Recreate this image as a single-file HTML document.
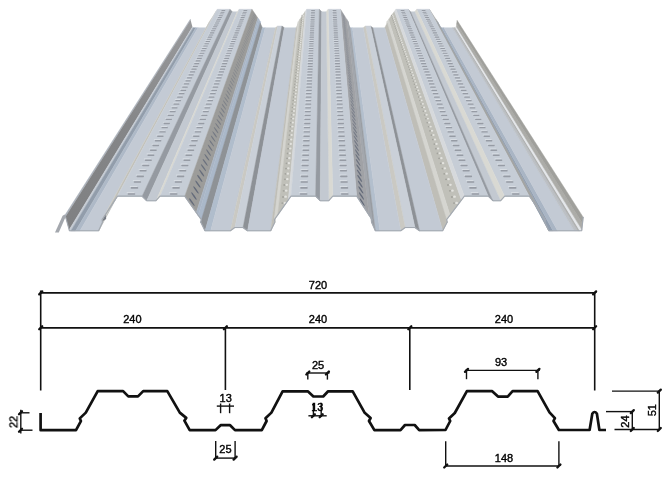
<!DOCTYPE html>
<html><head><meta charset="utf-8"><style>
html,body{margin:0;padding:0;background:#fff;width:669px;height:498px;overflow:hidden}
svg{display:block}
text{font-family:"Liberation Sans",sans-serif;fill:#000;stroke:#000;stroke-width:0.4px}
.tx{opacity:0.995}
</style></head><body>
<svg width="669" height="498" viewBox="0 0 669 498">
<defs><linearGradient id="lipg" x1="0" y1="231" x2="0" y2="19" gradientUnits="userSpaceOnUse"><stop offset="0" stop-color="#7f8082"/><stop offset="0.5" stop-color="#858688"/><stop offset="1" stop-color="#9a9b9d"/></linearGradient>
</defs>
<g id="deck">
<polygon points="65.00,215.08 65.44,216.68 190.58,20.08 190.35,19.24" fill="#a9b0ba" stroke="#a9b0ba" stroke-width="0.45"/>
<polygon points="65.44,216.68 69.09,229.89 192.46,27.11 190.58,20.08" fill="url(#lipg)"/>
<polygon points="69.09,229.89 69.40,231.00 192.62,27.70 192.46,27.11" fill="#c4cad2" stroke="#c4cad2" stroke-width="0.45"/>
<polygon points="69.40,231.00 70.86,231.00 193.37,27.70 192.62,27.70" fill="#bfc6cf" stroke="#bfc6cf" stroke-width="0.45"/>
<polygon points="70.86,231.00 75.53,231.00 195.77,27.70 193.37,27.70" fill="#929dab" stroke="#929dab" stroke-width="0.45"/>
<polygon points="75.53,231.00 79.91,231.00 198.03,27.70 195.77,27.70" fill="#aeb9c7" stroke="#aeb9c7" stroke-width="0.45"/>
<polygon points="79.91,231.00 98.60,231.00 207.65,27.70 198.03,27.70" fill="#c3cad4" stroke="#c3cad4" stroke-width="0.45"/>
<polygon points="98.60,231.00 102.57,222.35 209.69,23.10 207.65,27.70" fill="#bfbeb7" stroke="#bfbeb7" stroke-width="0.45"/>
<polygon points="102.57,222.35 102.00,219.93 209.40,21.81 209.69,23.10" fill="#d2d2cd" stroke="#d2d2cd" stroke-width="0.45"/>
<polygon points="102.00,219.93 105.03,215.43 210.95,19.42 209.40,21.81" fill="#d5d5d0" stroke="#d5d5d0" stroke-width="0.45"/>
<polygon points="105.03,215.43 115.01,200.21 216.09,11.32 210.95,19.42" fill="#c0c0b9" stroke="#c0c0b9" stroke-width="0.45"/>
<polygon points="115.01,200.21 117.50,196.40 217.37,9.30 216.09,11.32" fill="#d6d9dc" stroke="#d6d9dc" stroke-width="0.45"/>
<polygon points="117.50,196.40 142.00,196.40 229.98,9.30 217.37,9.30" fill="#c6cdd6" stroke="#c6cdd6" stroke-width="0.45"/>
<polygon points="142.00,196.40 146.60,201.00 232.35,11.75 229.98,9.30" fill="#959aa1" stroke="#959aa1" stroke-width="0.45"/>
<polygon points="146.60,201.00 156.00,201.00 237.19,11.75 232.35,11.75" fill="#c3c9d1" stroke="#c3c9d1" stroke-width="0.45"/>
<polygon points="156.00,201.00 160.00,196.40 239.25,9.30 237.19,11.75" fill="#d9d9d3" stroke="#d9d9d3" stroke-width="0.45"/>
<polygon points="160.00,196.40 184.70,196.40 251.96,9.30 239.25,9.30" fill="#c6cdd6" stroke="#c6cdd6" stroke-width="0.45"/>
<polygon points="184.70,196.40 196.22,212.77 257.89,18.00 251.96,9.30" fill="#9c9c9a" stroke="#9c9c9a" stroke-width="0.45"/>
<polygon points="196.22,212.77 198.10,215.43 258.86,19.42 257.89,18.00" fill="#a9b5c4" stroke="#a9b5c4" stroke-width="0.45"/>
<polygon points="198.10,215.43 201.35,219.93 260.53,21.81 258.86,19.42" fill="#aab8c9" stroke="#aab8c9" stroke-width="0.45"/>
<polygon points="201.35,219.93 200.74,222.35 260.22,23.10 260.53,21.81" fill="#a7b4c4" stroke="#a7b4c4" stroke-width="0.45"/>
<polygon points="200.74,222.35 205.00,231.00 262.41,27.70 260.22,23.10" fill="#8e9296" stroke="#8e9296" stroke-width="0.45"/>
<polygon points="205.00,231.00 210.59,231.00 265.29,27.70 262.41,27.70" fill="#b0bdcc" stroke="#b0bdcc" stroke-width="0.45"/>
<polygon points="210.59,231.00 230.40,231.00 275.48,27.70 265.29,27.70" fill="#c3cad4" stroke="#c3cad4" stroke-width="0.45"/>
<polygon points="230.40,231.00 234.80,227.82 277.75,26.01 275.48,27.70" fill="#cac9c3" stroke="#cac9c3" stroke-width="0.45"/>
<polygon points="234.80,227.82 243.00,227.82 281.97,26.01 277.75,26.01" fill="#cad0d8" stroke="#cad0d8" stroke-width="0.45"/>
<polygon points="243.00,227.82 247.50,231.00 284.29,27.70 281.97,26.01" fill="#8d9196" stroke="#8d9196" stroke-width="0.45"/>
<polygon points="247.50,231.00 270.70,231.00 296.23,27.70 284.29,27.70" fill="#c3cad4" stroke="#c3cad4" stroke-width="0.45"/>
<polygon points="270.70,231.00 274.96,222.35 298.42,23.10 296.23,27.70" fill="#bfbeb7" stroke="#bfbeb7" stroke-width="0.45"/>
<polygon points="274.96,222.35 274.35,219.93 298.11,21.81 298.42,23.10" fill="#d2d2cd" stroke="#d2d2cd" stroke-width="0.45"/>
<polygon points="274.35,219.93 277.60,215.43 299.78,19.42 298.11,21.81" fill="#d5d5d0" stroke="#d5d5d0" stroke-width="0.45"/>
<polygon points="277.60,215.43 288.32,200.21 305.30,11.32 299.78,19.42" fill="#c0c0b9" stroke="#c0c0b9" stroke-width="0.45"/>
<polygon points="288.32,200.21 291.00,196.40 306.68,9.30 305.30,11.32" fill="#d6d9dc" stroke="#d6d9dc" stroke-width="0.45"/>
<polygon points="291.00,196.40 315.60,196.40 319.34,9.30 306.68,9.30" fill="#c6cdd6" stroke="#c6cdd6" stroke-width="0.45"/>
<polygon points="315.60,196.40 320.20,201.00 321.70,11.75 319.34,9.30" fill="#959aa1" stroke="#959aa1" stroke-width="0.45"/>
<polygon points="581.70,231.00 581.88,229.34 456.39,26.82 456.30,27.70" fill="#d6d8da" stroke="#d6d8da" stroke-width="0.45"/>
<polygon points="581.88,229.34 582.53,223.39 456.72,23.65 456.39,26.82" fill="#acacA8" stroke="#acacA8" stroke-width="0.45"/>
<polygon points="582.53,223.39 583.20,217.16 457.07,20.34 456.72,23.65" fill="#a0a09c" stroke="#a0a09c" stroke-width="0.45"/>
<polygon points="548.90,231.00 553.16,231.00 441.61,27.70 439.42,27.70" fill="#909dae" stroke="#909dae" stroke-width="0.45"/>
<polygon points="553.16,231.00 557.76,231.00 443.97,27.70 441.61,27.70" fill="#a9b5c4" stroke="#a9b5c4" stroke-width="0.45"/>
<polygon points="557.76,231.00 574.48,231.00 452.58,27.70 443.97,27.70" fill="#c3cad4" stroke="#c3cad4" stroke-width="0.45"/>
<polygon points="574.48,231.00 577.76,231.00 454.27,27.70 452.58,27.70" fill="#bcc0c5" stroke="#bcc0c5" stroke-width="0.45"/>
<polygon points="577.76,231.00 580.06,231.00 455.45,27.70 454.27,27.70" fill="#b0b2b2" stroke="#b0b2b2" stroke-width="0.45"/>
<polygon points="580.06,231.00 581.70,231.00 456.30,27.70 455.45,27.70" fill="#e4e7ea" stroke="#e4e7ea" stroke-width="0.45"/>
<polygon points="544.80,222.35 548.90,231.00 439.42,27.70 437.31,23.10" fill="#909aa6" stroke="#909aa6" stroke-width="0.45"/>
<polygon points="545.39,219.93 544.80,222.35 437.31,23.10 437.61,21.81" fill="#9ea9b7" stroke="#9ea9b7" stroke-width="0.45"/>
<polygon points="542.27,215.43 545.39,219.93 437.61,21.81 436.00,19.42" fill="#9ea9b7" stroke="#9ea9b7" stroke-width="0.45"/>
<polygon points="529.40,196.40 542.27,215.43 436.00,19.42 429.38,9.30" fill="#a4a5a3" stroke="#a4a5a3" stroke-width="0.45"/>
<polygon points="504.70,196.40 529.40,196.40 429.38,9.30 416.67,9.30" fill="#c6cdd6" stroke="#c6cdd6" stroke-width="0.45"/>
<polygon points="500.70,201.00 504.70,196.40 416.67,9.30 414.61,11.75" fill="#d9d9d3" stroke="#d9d9d3" stroke-width="0.45"/>
<polygon points="492.90,201.00 500.70,201.00 414.61,11.75 410.59,11.75" fill="#c3c9d1" stroke="#c3c9d1" stroke-width="0.45"/>
<polygon points="488.30,196.40 492.90,201.00 410.59,11.75 408.23,9.30" fill="#959aa1" stroke="#959aa1" stroke-width="0.45"/>
<polygon points="464.40,196.40 488.30,196.40 408.23,9.30 395.92,9.30" fill="#c6cdd6" stroke="#c6cdd6" stroke-width="0.45"/>
<polygon points="450.08,215.43 461.54,200.21 394.45,11.32 388.55,19.42" fill="#c0c0b9" stroke="#c0c0b9" stroke-width="0.45"/>
<polygon points="461.54,200.21 464.40,196.40 395.92,9.30 394.45,11.32" fill="#d6d9dc" stroke="#d6d9dc" stroke-width="0.45"/>
<polygon points="446.61,219.93 450.08,215.43 388.55,19.42 386.77,21.81" fill="#d5d5d0" stroke="#d5d5d0" stroke-width="0.45"/>
<polygon points="447.26,222.35 446.61,219.93 386.77,21.81 387.10,23.10" fill="#d2d2cd" stroke="#d2d2cd" stroke-width="0.45"/>
<polygon points="442.70,231.00 447.26,222.35 387.10,23.10 384.76,27.70" fill="#bfbeb7" stroke="#bfbeb7" stroke-width="0.45"/>
<polygon points="419.50,231.00 442.70,231.00 384.76,27.70 372.81,27.70" fill="#c3cad4" stroke="#c3cad4" stroke-width="0.45"/>
<polygon points="415.00,227.82 419.50,231.00 372.81,27.70 370.50,26.01" fill="#8d9196" stroke="#8d9196" stroke-width="0.45"/>
<polygon points="405.20,227.82 415.00,227.82 370.50,26.01 365.45,26.01" fill="#cad0d8" stroke="#cad0d8" stroke-width="0.45"/>
<polygon points="400.80,231.00 405.20,227.82 365.45,26.01 363.19,27.70" fill="#cac9c3" stroke="#cac9c3" stroke-width="0.45"/>
<polygon points="375.40,231.00 379.97,231.00 352.47,27.70 350.12,27.70" fill="#b3bfcd" stroke="#b3bfcd" stroke-width="0.45"/>
<polygon points="379.97,231.00 400.80,231.00 363.19,27.70 352.47,27.70" fill="#c3cad4" stroke="#c3cad4" stroke-width="0.45"/>
<polygon points="371.47,222.35 375.40,231.00 350.12,27.70 348.09,23.10" fill="#989ca2" stroke="#989ca2" stroke-width="0.45"/>
<polygon points="372.03,219.93 371.47,222.35 348.09,23.10 348.38,21.81" fill="#a5abb3" stroke="#a5abb3" stroke-width="0.45"/>
<polygon points="369.04,215.43 372.03,219.93 348.38,21.81 346.84,19.42" fill="#a3a7ad" stroke="#a3a7ad" stroke-width="0.45"/>
<polygon points="356.70,196.40 369.04,215.43 346.84,19.42 340.49,9.30" fill="#a0a2a6" stroke="#a0a2a6" stroke-width="0.45"/>
<polygon points="332.80,196.40 356.70,196.40 340.49,9.30 328.19,9.30" fill="#c6cdd6" stroke="#c6cdd6" stroke-width="0.45"/>
<polygon points="328.80,201.00 332.80,196.40 328.19,9.30 326.13,11.75" fill="#d9d9d3" stroke="#d9d9d3" stroke-width="0.45"/>
<polygon points="320.20,201.00 328.80,201.00 326.13,11.75 321.70,11.75" fill="#c3c9d1" stroke="#c3c9d1" stroke-width="0.45"/>
<polygon points="55.00,232.60 62.60,215.80 64.60,214.60 66.00,216.00 58.80,232.60" fill="#a4a8ae"/>
<polygon points="101.60,221.80 105.60,214.20 106.20,219.00" fill="#767b83"/>
<rect x="126.65" y="191.99" width="7.74" height="1.29" fill="#d8dde3" rx="0.60"/>
<rect x="127.55" y="193.18" width="7.74" height="1.69" fill="#969ba4" rx="0.79"/>
<rect x="129.77" y="185.94" width="7.62" height="1.27" fill="#d8dde3" rx="0.59"/>
<rect x="130.65" y="187.11" width="7.62" height="1.66" fill="#969ba4" rx="0.78"/>
<rect x="132.80" y="180.07" width="7.50" height="1.25" fill="#d8dde3" rx="0.58"/>
<rect x="133.66" y="181.23" width="7.50" height="1.64" fill="#969ba4" rx="0.77"/>
<rect x="135.73" y="174.39" width="7.38" height="1.24" fill="#d8dde3" rx="0.57"/>
<rect x="136.58" y="175.53" width="7.38" height="1.61" fill="#969ba4" rx="0.76"/>
<rect x="138.57" y="168.88" width="7.27" height="1.22" fill="#d8dde3" rx="0.56"/>
<rect x="139.41" y="170.00" width="7.27" height="1.59" fill="#969ba4" rx="0.75"/>
<rect x="141.33" y="163.54" width="7.16" height="1.20" fill="#d8dde3" rx="0.55"/>
<rect x="142.16" y="164.64" width="7.16" height="1.57" fill="#969ba4" rx="0.73"/>
<rect x="144.01" y="158.35" width="7.06" height="1.19" fill="#d8dde3" rx="0.54"/>
<rect x="144.82" y="159.44" width="7.06" height="1.55" fill="#969ba4" rx="0.72"/>
<rect x="146.61" y="153.31" width="6.96" height="1.17" fill="#d8dde3" rx="0.54"/>
<rect x="147.41" y="154.38" width="6.96" height="1.53" fill="#969ba4" rx="0.71"/>
<rect x="149.13" y="148.42" width="6.86" height="1.15" fill="#d8dde3" rx="0.53"/>
<rect x="149.92" y="149.48" width="6.86" height="1.51" fill="#969ba4" rx="0.70"/>
<rect x="151.59" y="143.67" width="6.76" height="1.14" fill="#d8dde3" rx="0.52"/>
<rect x="152.37" y="144.71" width="6.76" height="1.49" fill="#969ba4" rx="0.69"/>
<rect x="153.97" y="139.04" width="6.67" height="1.13" fill="#d8dde3" rx="0.51"/>
<rect x="154.74" y="140.07" width="6.67" height="1.47" fill="#969ba4" rx="0.68"/>
<rect x="156.29" y="134.55" width="6.57" height="1.11" fill="#d8dde3" rx="0.51"/>
<rect x="157.05" y="135.56" width="6.57" height="1.45" fill="#969ba4" rx="0.67"/>
<rect x="158.55" y="130.17" width="6.49" height="1.10" fill="#d8dde3" rx="0.50"/>
<rect x="159.30" y="131.17" width="6.49" height="1.43" fill="#969ba4" rx="0.67"/>
<rect x="160.75" y="125.91" width="6.40" height="1.08" fill="#d8dde3" rx="0.49"/>
<rect x="161.48" y="126.90" width="6.40" height="1.41" fill="#969ba4" rx="0.66"/>
<rect x="162.88" y="121.77" width="6.31" height="1.07" fill="#d8dde3" rx="0.49"/>
<rect x="163.61" y="122.74" width="6.31" height="1.40" fill="#969ba4" rx="0.65"/>
<rect x="164.97" y="117.73" width="6.23" height="1.06" fill="#d8dde3" rx="0.48"/>
<rect x="165.69" y="118.69" width="6.23" height="1.38" fill="#969ba4" rx="0.64"/>
<rect x="167.00" y="113.79" width="6.15" height="1.05" fill="#d8dde3" rx="0.47"/>
<rect x="167.71" y="114.74" width="6.15" height="1.36" fill="#969ba4" rx="0.63"/>
<rect x="168.98" y="109.96" width="6.07" height="1.03" fill="#d8dde3" rx="0.47"/>
<rect x="169.68" y="110.89" width="6.07" height="1.35" fill="#969ba4" rx="0.62"/>
<rect x="170.91" y="106.22" width="6.00" height="1.02" fill="#d8dde3" rx="0.46"/>
<rect x="171.60" y="107.14" width="6.00" height="1.33" fill="#969ba4" rx="0.62"/>
<rect x="172.79" y="102.57" width="5.92" height="1.01" fill="#d8dde3" rx="0.46"/>
<rect x="173.47" y="103.48" width="5.92" height="1.32" fill="#969ba4" rx="0.61"/>
<rect x="174.62" y="99.01" width="5.85" height="1.00" fill="#d8dde3" rx="0.45"/>
<rect x="175.30" y="99.91" width="5.85" height="1.30" fill="#969ba4" rx="0.60"/>
<rect x="176.42" y="95.54" width="5.78" height="0.99" fill="#d8dde3" rx="0.44"/>
<rect x="177.08" y="96.43" width="5.78" height="1.29" fill="#969ba4" rx="0.59"/>
<rect x="178.17" y="92.15" width="5.71" height="0.98" fill="#d8dde3" rx="0.44"/>
<rect x="178.82" y="93.03" width="5.71" height="1.27" fill="#969ba4" rx="0.59"/>
<rect x="179.87" y="88.84" width="5.65" height="0.97" fill="#d8dde3" rx="0.43"/>
<rect x="180.52" y="89.71" width="5.65" height="1.26" fill="#969ba4" rx="0.58"/>
<rect x="181.54" y="85.61" width="5.58" height="0.96" fill="#d8dde3" rx="0.43"/>
<rect x="182.19" y="86.47" width="5.58" height="1.24" fill="#969ba4" rx="0.57"/>
<rect x="183.17" y="82.45" width="5.52" height="0.95" fill="#d8dde3" rx="0.42"/>
<rect x="183.81" y="83.30" width="5.52" height="1.23" fill="#969ba4" rx="0.57"/>
<rect x="184.76" y="79.36" width="5.45" height="0.94" fill="#d8dde3" rx="0.42"/>
<rect x="185.39" y="80.20" width="5.45" height="1.22" fill="#969ba4" rx="0.56"/>
<rect x="186.32" y="76.35" width="5.39" height="0.93" fill="#d8dde3" rx="0.41"/>
<rect x="186.94" y="77.17" width="5.39" height="1.21" fill="#969ba4" rx="0.55"/>
<rect x="187.84" y="73.40" width="5.33" height="0.92" fill="#d8dde3" rx="0.41"/>
<rect x="188.46" y="74.22" width="5.33" height="1.19" fill="#969ba4" rx="0.55"/>
<rect x="189.33" y="70.51" width="5.27" height="0.91" fill="#d8dde3" rx="0.41"/>
<rect x="189.94" y="71.32" width="5.27" height="1.18" fill="#969ba4" rx="0.54"/>
<rect x="190.79" y="67.69" width="5.22" height="0.90" fill="#d8dde3" rx="0.40"/>
<rect x="191.39" y="68.49" width="5.22" height="1.17" fill="#969ba4" rx="0.53"/>
<rect x="192.21" y="64.92" width="5.16" height="0.89" fill="#d8dde3" rx="0.40"/>
<rect x="192.81" y="65.72" width="5.16" height="1.16" fill="#969ba4" rx="0.53"/>
<rect x="193.61" y="62.22" width="5.11" height="0.89" fill="#d8dde3" rx="0.39"/>
<rect x="194.20" y="63.01" width="5.11" height="1.15" fill="#969ba4" rx="0.52"/>
<rect x="194.97" y="59.58" width="5.05" height="0.88" fill="#d8dde3" rx="0.39"/>
<rect x="195.56" y="60.35" width="5.05" height="1.14" fill="#969ba4" rx="0.52"/>
<rect x="196.31" y="56.98" width="5.00" height="0.87" fill="#d8dde3" rx="0.38"/>
<rect x="196.89" y="57.75" width="5.00" height="1.13" fill="#969ba4" rx="0.51"/>
<rect x="197.62" y="54.45" width="4.95" height="0.86" fill="#d8dde3" rx="0.38"/>
<rect x="198.19" y="55.21" width="4.95" height="1.11" fill="#969ba4" rx="0.51"/>
<rect x="198.90" y="51.96" width="4.90" height="0.85" fill="#d8dde3" rx="0.38"/>
<rect x="199.47" y="52.71" width="4.90" height="1.10" fill="#969ba4" rx="0.50"/>
<rect x="200.16" y="49.52" width="4.85" height="0.85" fill="#d8dde3" rx="0.37"/>
<rect x="200.72" y="50.27" width="4.85" height="1.09" fill="#969ba4" rx="0.50"/>
<rect x="201.39" y="47.14" width="4.80" height="0.84" fill="#d8dde3" rx="0.37"/>
<rect x="201.94" y="47.88" width="4.80" height="1.08" fill="#969ba4" rx="0.49"/>
<rect x="202.60" y="44.80" width="4.75" height="0.83" fill="#d8dde3" rx="0.37"/>
<rect x="203.15" y="45.53" width="4.75" height="1.07" fill="#969ba4" rx="0.49"/>
<rect x="203.78" y="42.50" width="4.70" height="0.82" fill="#d8dde3" rx="0.36"/>
<rect x="204.32" y="43.23" width="4.70" height="1.07" fill="#969ba4" rx="0.48"/>
<rect x="204.94" y="40.25" width="4.66" height="0.82" fill="#d8dde3" rx="0.36"/>
<rect x="205.48" y="40.97" width="4.66" height="1.06" fill="#969ba4" rx="0.48"/>
<rect x="206.08" y="38.05" width="4.61" height="0.81" fill="#d8dde3" rx="0.35"/>
<rect x="206.61" y="38.76" width="4.61" height="1.05" fill="#969ba4" rx="0.47"/>
<rect x="207.20" y="35.88" width="4.57" height="0.80" fill="#d8dde3" rx="0.35"/>
<rect x="207.72" y="36.59" width="4.57" height="1.04" fill="#969ba4" rx="0.47"/>
<rect x="208.29" y="33.76" width="4.53" height="0.80" fill="#d8dde3" rx="0.35"/>
<rect x="208.81" y="34.46" width="4.53" height="1.03" fill="#969ba4" rx="0.46"/>
<rect x="209.37" y="31.68" width="4.48" height="0.79" fill="#d8dde3" rx="0.34"/>
<rect x="209.88" y="32.37" width="4.48" height="1.02" fill="#969ba4" rx="0.46"/>
<rect x="210.42" y="29.63" width="4.44" height="0.78" fill="#d8dde3" rx="0.34"/>
<rect x="210.94" y="30.32" width="4.44" height="1.01" fill="#969ba4" rx="0.46"/>
<rect x="211.46" y="27.63" width="4.40" height="0.78" fill="#d8dde3" rx="0.34"/>
<rect x="211.97" y="28.30" width="4.40" height="1.00" fill="#969ba4" rx="0.45"/>
<rect x="212.48" y="25.66" width="4.36" height="0.77" fill="#d8dde3" rx="0.34"/>
<rect x="212.98" y="26.33" width="4.36" height="0.99" fill="#969ba4" rx="0.45"/>
<rect x="213.47" y="23.72" width="4.32" height="0.77" fill="#d8dde3" rx="0.33"/>
<rect x="213.97" y="24.39" width="4.32" height="0.99" fill="#969ba4" rx="0.44"/>
<rect x="214.45" y="21.82" width="4.28" height="0.76" fill="#d8dde3" rx="0.33"/>
<rect x="214.95" y="22.48" width="4.28" height="0.98" fill="#969ba4" rx="0.44"/>
<rect x="215.42" y="19.95" width="4.25" height="0.75" fill="#d8dde3" rx="0.33"/>
<rect x="215.91" y="20.61" width="4.25" height="0.97" fill="#969ba4" rx="0.44"/>
<rect x="216.36" y="18.12" width="4.21" height="0.75" fill="#d8dde3" rx="0.32"/>
<rect x="216.85" y="18.77" width="4.21" height="0.96" fill="#969ba4" rx="0.43"/>
<rect x="217.29" y="16.32" width="4.17" height="0.74" fill="#d8dde3" rx="0.32"/>
<rect x="217.78" y="16.96" width="4.17" height="0.96" fill="#969ba4" rx="0.43"/>
<rect x="218.21" y="14.54" width="4.14" height="0.74" fill="#d8dde3" rx="0.32"/>
<rect x="218.69" y="15.18" width="4.14" height="0.95" fill="#969ba4" rx="0.42"/>
<rect x="219.11" y="12.80" width="4.10" height="0.73" fill="#d8dde3" rx="0.32"/>
<rect x="219.58" y="13.43" width="4.10" height="0.94" fill="#969ba4" rx="0.42"/>
<rect x="219.99" y="11.09" width="4.07" height="0.73" fill="#d8dde3" rx="0.31"/>
<rect x="220.46" y="11.72" width="4.07" height="0.93" fill="#969ba4" rx="0.42"/>
<rect x="220.86" y="9.41" width="4.03" height="0.72" fill="#d8dde3" rx="0.31"/>
<rect x="221.32" y="10.03" width="4.03" height="0.93" fill="#969ba4" rx="0.41"/>
<rect x="168.93" y="191.99" width="7.74" height="1.29" fill="#d8dde3" rx="0.60"/>
<rect x="169.82" y="193.18" width="7.74" height="1.69" fill="#969ba4" rx="0.79"/>
<rect x="171.38" y="185.94" width="7.62" height="1.27" fill="#d8dde3" rx="0.59"/>
<rect x="172.26" y="187.11" width="7.62" height="1.66" fill="#969ba4" rx="0.78"/>
<rect x="173.75" y="180.07" width="7.50" height="1.25" fill="#d8dde3" rx="0.58"/>
<rect x="174.62" y="181.23" width="7.50" height="1.64" fill="#969ba4" rx="0.77"/>
<rect x="176.06" y="174.39" width="7.38" height="1.24" fill="#d8dde3" rx="0.57"/>
<rect x="176.91" y="175.53" width="7.38" height="1.61" fill="#969ba4" rx="0.76"/>
<rect x="178.29" y="168.88" width="7.27" height="1.22" fill="#d8dde3" rx="0.56"/>
<rect x="179.13" y="170.00" width="7.27" height="1.59" fill="#969ba4" rx="0.75"/>
<rect x="180.45" y="163.54" width="7.16" height="1.20" fill="#d8dde3" rx="0.55"/>
<rect x="181.28" y="164.64" width="7.16" height="1.57" fill="#969ba4" rx="0.73"/>
<rect x="182.55" y="158.35" width="7.06" height="1.19" fill="#d8dde3" rx="0.54"/>
<rect x="183.37" y="159.44" width="7.06" height="1.55" fill="#969ba4" rx="0.72"/>
<rect x="184.59" y="153.31" width="6.96" height="1.17" fill="#d8dde3" rx="0.54"/>
<rect x="185.40" y="154.38" width="6.96" height="1.53" fill="#969ba4" rx="0.71"/>
<rect x="186.58" y="148.42" width="6.86" height="1.15" fill="#d8dde3" rx="0.53"/>
<rect x="187.37" y="149.48" width="6.86" height="1.51" fill="#969ba4" rx="0.70"/>
<rect x="188.50" y="143.67" width="6.76" height="1.14" fill="#d8dde3" rx="0.52"/>
<rect x="189.28" y="144.71" width="6.76" height="1.49" fill="#969ba4" rx="0.69"/>
<rect x="190.37" y="139.04" width="6.67" height="1.13" fill="#d8dde3" rx="0.51"/>
<rect x="191.14" y="140.07" width="6.67" height="1.47" fill="#969ba4" rx="0.68"/>
<rect x="192.20" y="134.55" width="6.57" height="1.11" fill="#d8dde3" rx="0.51"/>
<rect x="192.95" y="135.56" width="6.57" height="1.45" fill="#969ba4" rx="0.67"/>
<rect x="193.97" y="130.17" width="6.49" height="1.10" fill="#d8dde3" rx="0.50"/>
<rect x="194.72" y="131.17" width="6.49" height="1.43" fill="#969ba4" rx="0.67"/>
<rect x="195.69" y="125.91" width="6.40" height="1.08" fill="#d8dde3" rx="0.49"/>
<rect x="196.43" y="126.90" width="6.40" height="1.41" fill="#969ba4" rx="0.66"/>
<rect x="197.37" y="121.77" width="6.31" height="1.07" fill="#d8dde3" rx="0.49"/>
<rect x="198.10" y="122.74" width="6.31" height="1.40" fill="#969ba4" rx="0.65"/>
<rect x="199.01" y="117.73" width="6.23" height="1.06" fill="#d8dde3" rx="0.48"/>
<rect x="199.73" y="118.69" width="6.23" height="1.38" fill="#969ba4" rx="0.64"/>
<rect x="200.60" y="113.79" width="6.15" height="1.05" fill="#d8dde3" rx="0.47"/>
<rect x="201.31" y="114.74" width="6.15" height="1.36" fill="#969ba4" rx="0.63"/>
<rect x="202.16" y="109.96" width="6.07" height="1.03" fill="#d8dde3" rx="0.47"/>
<rect x="202.86" y="110.89" width="6.07" height="1.35" fill="#969ba4" rx="0.62"/>
<rect x="203.67" y="106.22" width="6.00" height="1.02" fill="#d8dde3" rx="0.46"/>
<rect x="204.36" y="107.14" width="6.00" height="1.33" fill="#969ba4" rx="0.62"/>
<rect x="205.15" y="102.57" width="5.92" height="1.01" fill="#d8dde3" rx="0.46"/>
<rect x="205.83" y="103.48" width="5.92" height="1.32" fill="#969ba4" rx="0.61"/>
<rect x="206.59" y="99.01" width="5.85" height="1.00" fill="#d8dde3" rx="0.45"/>
<rect x="207.26" y="99.91" width="5.85" height="1.30" fill="#969ba4" rx="0.60"/>
<rect x="207.99" y="95.54" width="5.78" height="0.99" fill="#d8dde3" rx="0.44"/>
<rect x="208.66" y="96.43" width="5.78" height="1.29" fill="#969ba4" rx="0.59"/>
<rect x="209.37" y="92.15" width="5.71" height="0.98" fill="#d8dde3" rx="0.44"/>
<rect x="210.03" y="93.03" width="5.71" height="1.27" fill="#969ba4" rx="0.59"/>
<rect x="210.71" y="88.84" width="5.65" height="0.97" fill="#d8dde3" rx="0.43"/>
<rect x="211.36" y="89.71" width="5.65" height="1.26" fill="#969ba4" rx="0.58"/>
<rect x="212.02" y="85.61" width="5.58" height="0.96" fill="#d8dde3" rx="0.43"/>
<rect x="212.66" y="86.47" width="5.58" height="1.24" fill="#969ba4" rx="0.57"/>
<rect x="213.30" y="82.45" width="5.52" height="0.95" fill="#d8dde3" rx="0.42"/>
<rect x="213.93" y="83.30" width="5.52" height="1.23" fill="#969ba4" rx="0.57"/>
<rect x="214.55" y="79.36" width="5.45" height="0.94" fill="#d8dde3" rx="0.42"/>
<rect x="215.18" y="80.20" width="5.45" height="1.22" fill="#969ba4" rx="0.56"/>
<rect x="215.77" y="76.35" width="5.39" height="0.93" fill="#d8dde3" rx="0.41"/>
<rect x="216.39" y="77.17" width="5.39" height="1.21" fill="#969ba4" rx="0.55"/>
<rect x="216.96" y="73.40" width="5.33" height="0.92" fill="#d8dde3" rx="0.41"/>
<rect x="217.58" y="74.22" width="5.33" height="1.19" fill="#969ba4" rx="0.55"/>
<rect x="218.13" y="70.51" width="5.27" height="0.91" fill="#d8dde3" rx="0.41"/>
<rect x="218.74" y="71.32" width="5.27" height="1.18" fill="#969ba4" rx="0.54"/>
<rect x="219.28" y="67.69" width="5.22" height="0.90" fill="#d8dde3" rx="0.40"/>
<rect x="219.88" y="68.49" width="5.22" height="1.17" fill="#969ba4" rx="0.53"/>
<rect x="220.40" y="64.92" width="5.16" height="0.89" fill="#d8dde3" rx="0.40"/>
<rect x="220.99" y="65.72" width="5.16" height="1.16" fill="#969ba4" rx="0.53"/>
<rect x="221.49" y="62.22" width="5.11" height="0.89" fill="#d8dde3" rx="0.39"/>
<rect x="222.08" y="63.01" width="5.11" height="1.15" fill="#969ba4" rx="0.52"/>
<rect x="222.56" y="59.58" width="5.05" height="0.88" fill="#d8dde3" rx="0.39"/>
<rect x="223.14" y="60.35" width="5.05" height="1.14" fill="#969ba4" rx="0.52"/>
<rect x="223.61" y="56.98" width="5.00" height="0.87" fill="#d8dde3" rx="0.38"/>
<rect x="224.19" y="57.75" width="5.00" height="1.13" fill="#969ba4" rx="0.51"/>
<rect x="224.64" y="54.45" width="4.95" height="0.86" fill="#d8dde3" rx="0.38"/>
<rect x="225.21" y="55.21" width="4.95" height="1.11" fill="#969ba4" rx="0.51"/>
<rect x="225.65" y="51.96" width="4.90" height="0.85" fill="#d8dde3" rx="0.38"/>
<rect x="226.21" y="52.71" width="4.90" height="1.10" fill="#969ba4" rx="0.50"/>
<rect x="226.63" y="49.52" width="4.85" height="0.85" fill="#d8dde3" rx="0.37"/>
<rect x="227.19" y="50.27" width="4.85" height="1.09" fill="#969ba4" rx="0.50"/>
<rect x="227.60" y="47.14" width="4.80" height="0.84" fill="#d8dde3" rx="0.37"/>
<rect x="228.15" y="47.88" width="4.80" height="1.08" fill="#969ba4" rx="0.49"/>
<rect x="228.55" y="44.80" width="4.75" height="0.83" fill="#d8dde3" rx="0.37"/>
<rect x="229.10" y="45.53" width="4.75" height="1.07" fill="#969ba4" rx="0.49"/>
<rect x="229.48" y="42.50" width="4.70" height="0.82" fill="#d8dde3" rx="0.36"/>
<rect x="230.02" y="43.23" width="4.70" height="1.07" fill="#969ba4" rx="0.48"/>
<rect x="230.39" y="40.25" width="4.66" height="0.82" fill="#d8dde3" rx="0.36"/>
<rect x="230.93" y="40.97" width="4.66" height="1.06" fill="#969ba4" rx="0.48"/>
<rect x="231.28" y="38.05" width="4.61" height="0.81" fill="#d8dde3" rx="0.35"/>
<rect x="231.81" y="38.76" width="4.61" height="1.05" fill="#969ba4" rx="0.47"/>
<rect x="232.16" y="35.88" width="4.57" height="0.80" fill="#d8dde3" rx="0.35"/>
<rect x="232.69" y="36.59" width="4.57" height="1.04" fill="#969ba4" rx="0.47"/>
<rect x="233.02" y="33.76" width="4.53" height="0.80" fill="#d8dde3" rx="0.35"/>
<rect x="233.54" y="34.46" width="4.53" height="1.03" fill="#969ba4" rx="0.46"/>
<rect x="233.86" y="31.68" width="4.48" height="0.79" fill="#d8dde3" rx="0.34"/>
<rect x="234.38" y="32.37" width="4.48" height="1.02" fill="#969ba4" rx="0.46"/>
<rect x="234.69" y="29.63" width="4.44" height="0.78" fill="#d8dde3" rx="0.34"/>
<rect x="235.20" y="30.32" width="4.44" height="1.01" fill="#969ba4" rx="0.46"/>
<rect x="235.50" y="27.63" width="4.40" height="0.78" fill="#d8dde3" rx="0.34"/>
<rect x="236.01" y="28.30" width="4.40" height="1.00" fill="#969ba4" rx="0.45"/>
<rect x="236.30" y="25.66" width="4.36" height="0.77" fill="#d8dde3" rx="0.34"/>
<rect x="236.80" y="26.33" width="4.36" height="0.99" fill="#969ba4" rx="0.45"/>
<rect x="237.09" y="23.72" width="4.32" height="0.77" fill="#d8dde3" rx="0.33"/>
<rect x="237.58" y="24.39" width="4.32" height="0.99" fill="#969ba4" rx="0.44"/>
<rect x="237.85" y="21.82" width="4.28" height="0.76" fill="#d8dde3" rx="0.33"/>
<rect x="238.35" y="22.48" width="4.28" height="0.98" fill="#969ba4" rx="0.44"/>
<rect x="238.61" y="19.95" width="4.25" height="0.75" fill="#d8dde3" rx="0.33"/>
<rect x="239.10" y="20.61" width="4.25" height="0.97" fill="#969ba4" rx="0.44"/>
<rect x="239.35" y="18.12" width="4.21" height="0.75" fill="#d8dde3" rx="0.32"/>
<rect x="239.84" y="18.77" width="4.21" height="0.96" fill="#969ba4" rx="0.43"/>
<rect x="240.08" y="16.32" width="4.17" height="0.74" fill="#d8dde3" rx="0.32"/>
<rect x="240.57" y="16.96" width="4.17" height="0.96" fill="#969ba4" rx="0.43"/>
<rect x="240.80" y="14.54" width="4.14" height="0.74" fill="#d8dde3" rx="0.32"/>
<rect x="241.28" y="15.18" width="4.14" height="0.95" fill="#969ba4" rx="0.42"/>
<rect x="241.51" y="12.80" width="4.10" height="0.73" fill="#d8dde3" rx="0.32"/>
<rect x="241.98" y="13.43" width="4.10" height="0.94" fill="#969ba4" rx="0.42"/>
<rect x="242.20" y="11.09" width="4.07" height="0.73" fill="#d8dde3" rx="0.31"/>
<rect x="242.67" y="11.72" width="4.07" height="0.93" fill="#969ba4" rx="0.42"/>
<rect x="242.88" y="9.41" width="4.03" height="0.72" fill="#d8dde3" rx="0.31"/>
<rect x="243.35" y="10.03" width="4.03" height="0.93" fill="#969ba4" rx="0.41"/>
<rect x="298.89" y="191.99" width="7.74" height="1.29" fill="#d8dde3" rx="0.60"/>
<rect x="299.78" y="193.18" width="7.74" height="1.69" fill="#969ba4" rx="0.79"/>
<rect x="299.27" y="185.94" width="7.62" height="1.27" fill="#d8dde3" rx="0.59"/>
<rect x="300.15" y="187.11" width="7.62" height="1.66" fill="#969ba4" rx="0.78"/>
<rect x="299.65" y="180.07" width="7.50" height="1.25" fill="#d8dde3" rx="0.58"/>
<rect x="300.51" y="181.23" width="7.50" height="1.64" fill="#969ba4" rx="0.77"/>
<rect x="300.01" y="174.39" width="7.38" height="1.24" fill="#d8dde3" rx="0.57"/>
<rect x="300.87" y="175.53" width="7.38" height="1.61" fill="#969ba4" rx="0.76"/>
<rect x="300.37" y="168.88" width="7.27" height="1.22" fill="#d8dde3" rx="0.56"/>
<rect x="301.21" y="170.00" width="7.27" height="1.59" fill="#969ba4" rx="0.75"/>
<rect x="300.71" y="163.54" width="7.16" height="1.20" fill="#d8dde3" rx="0.55"/>
<rect x="301.54" y="164.64" width="7.16" height="1.57" fill="#969ba4" rx="0.73"/>
<rect x="301.04" y="158.35" width="7.06" height="1.19" fill="#d8dde3" rx="0.54"/>
<rect x="301.86" y="159.44" width="7.06" height="1.55" fill="#969ba4" rx="0.72"/>
<rect x="301.36" y="153.31" width="6.96" height="1.17" fill="#d8dde3" rx="0.54"/>
<rect x="302.17" y="154.38" width="6.96" height="1.53" fill="#969ba4" rx="0.71"/>
<rect x="301.68" y="148.42" width="6.86" height="1.15" fill="#d8dde3" rx="0.53"/>
<rect x="302.47" y="149.48" width="6.86" height="1.51" fill="#969ba4" rx="0.70"/>
<rect x="301.98" y="143.67" width="6.76" height="1.14" fill="#d8dde3" rx="0.52"/>
<rect x="302.76" y="144.71" width="6.76" height="1.49" fill="#969ba4" rx="0.69"/>
<rect x="302.28" y="139.04" width="6.67" height="1.13" fill="#d8dde3" rx="0.51"/>
<rect x="303.05" y="140.07" width="6.67" height="1.47" fill="#969ba4" rx="0.68"/>
<rect x="302.57" y="134.55" width="6.57" height="1.11" fill="#d8dde3" rx="0.51"/>
<rect x="303.32" y="135.56" width="6.57" height="1.45" fill="#969ba4" rx="0.67"/>
<rect x="302.85" y="130.17" width="6.49" height="1.10" fill="#d8dde3" rx="0.50"/>
<rect x="303.59" y="131.17" width="6.49" height="1.43" fill="#969ba4" rx="0.67"/>
<rect x="303.12" y="125.91" width="6.40" height="1.08" fill="#d8dde3" rx="0.49"/>
<rect x="303.86" y="126.90" width="6.40" height="1.41" fill="#969ba4" rx="0.66"/>
<rect x="303.38" y="121.77" width="6.31" height="1.07" fill="#d8dde3" rx="0.49"/>
<rect x="304.11" y="122.74" width="6.31" height="1.40" fill="#969ba4" rx="0.65"/>
<rect x="303.64" y="117.73" width="6.23" height="1.06" fill="#d8dde3" rx="0.48"/>
<rect x="304.36" y="118.69" width="6.23" height="1.38" fill="#969ba4" rx="0.64"/>
<rect x="303.90" y="113.79" width="6.15" height="1.05" fill="#d8dde3" rx="0.47"/>
<rect x="304.61" y="114.74" width="6.15" height="1.36" fill="#969ba4" rx="0.63"/>
<rect x="304.14" y="109.96" width="6.07" height="1.03" fill="#d8dde3" rx="0.47"/>
<rect x="304.84" y="110.89" width="6.07" height="1.35" fill="#969ba4" rx="0.62"/>
<rect x="304.38" y="106.22" width="6.00" height="1.02" fill="#d8dde3" rx="0.46"/>
<rect x="305.07" y="107.14" width="6.00" height="1.33" fill="#969ba4" rx="0.62"/>
<rect x="304.61" y="102.57" width="5.92" height="1.01" fill="#d8dde3" rx="0.46"/>
<rect x="305.30" y="103.48" width="5.92" height="1.32" fill="#969ba4" rx="0.61"/>
<rect x="304.84" y="99.01" width="5.85" height="1.00" fill="#d8dde3" rx="0.45"/>
<rect x="305.52" y="99.91" width="5.85" height="1.30" fill="#969ba4" rx="0.60"/>
<rect x="305.06" y="95.54" width="5.78" height="0.99" fill="#d8dde3" rx="0.44"/>
<rect x="305.73" y="96.43" width="5.78" height="1.29" fill="#969ba4" rx="0.59"/>
<rect x="305.28" y="92.15" width="5.71" height="0.98" fill="#d8dde3" rx="0.44"/>
<rect x="305.94" y="93.03" width="5.71" height="1.27" fill="#969ba4" rx="0.59"/>
<rect x="305.49" y="88.84" width="5.65" height="0.97" fill="#d8dde3" rx="0.43"/>
<rect x="306.15" y="89.71" width="5.65" height="1.26" fill="#969ba4" rx="0.58"/>
<rect x="305.70" y="85.61" width="5.58" height="0.96" fill="#d8dde3" rx="0.43"/>
<rect x="306.34" y="86.47" width="5.58" height="1.24" fill="#969ba4" rx="0.57"/>
<rect x="305.90" y="82.45" width="5.52" height="0.95" fill="#d8dde3" rx="0.42"/>
<rect x="306.54" y="83.30" width="5.52" height="1.23" fill="#969ba4" rx="0.57"/>
<rect x="306.10" y="79.36" width="5.45" height="0.94" fill="#d8dde3" rx="0.42"/>
<rect x="306.73" y="80.20" width="5.45" height="1.22" fill="#969ba4" rx="0.56"/>
<rect x="306.29" y="76.35" width="5.39" height="0.93" fill="#d8dde3" rx="0.41"/>
<rect x="306.92" y="77.17" width="5.39" height="1.21" fill="#969ba4" rx="0.55"/>
<rect x="306.48" y="73.40" width="5.33" height="0.92" fill="#d8dde3" rx="0.41"/>
<rect x="307.10" y="74.22" width="5.33" height="1.19" fill="#969ba4" rx="0.55"/>
<rect x="306.67" y="70.51" width="5.27" height="0.91" fill="#d8dde3" rx="0.41"/>
<rect x="307.28" y="71.32" width="5.27" height="1.18" fill="#969ba4" rx="0.54"/>
<rect x="306.85" y="67.69" width="5.22" height="0.90" fill="#d8dde3" rx="0.40"/>
<rect x="307.45" y="68.49" width="5.22" height="1.17" fill="#969ba4" rx="0.53"/>
<rect x="307.03" y="64.92" width="5.16" height="0.89" fill="#d8dde3" rx="0.40"/>
<rect x="307.62" y="65.72" width="5.16" height="1.16" fill="#969ba4" rx="0.53"/>
<rect x="307.20" y="62.22" width="5.11" height="0.89" fill="#d8dde3" rx="0.39"/>
<rect x="307.79" y="63.01" width="5.11" height="1.15" fill="#969ba4" rx="0.52"/>
<rect x="307.37" y="59.58" width="5.05" height="0.88" fill="#d8dde3" rx="0.39"/>
<rect x="307.95" y="60.35" width="5.05" height="1.14" fill="#969ba4" rx="0.52"/>
<rect x="307.53" y="56.98" width="5.00" height="0.87" fill="#d8dde3" rx="0.38"/>
<rect x="308.11" y="57.75" width="5.00" height="1.13" fill="#969ba4" rx="0.51"/>
<rect x="307.70" y="54.45" width="4.95" height="0.86" fill="#d8dde3" rx="0.38"/>
<rect x="308.27" y="55.21" width="4.95" height="1.11" fill="#969ba4" rx="0.51"/>
<rect x="307.86" y="51.96" width="4.90" height="0.85" fill="#d8dde3" rx="0.38"/>
<rect x="308.42" y="52.71" width="4.90" height="1.10" fill="#969ba4" rx="0.50"/>
<rect x="308.01" y="49.52" width="4.85" height="0.85" fill="#d8dde3" rx="0.37"/>
<rect x="308.57" y="50.27" width="4.85" height="1.09" fill="#969ba4" rx="0.50"/>
<rect x="308.17" y="47.14" width="4.80" height="0.84" fill="#d8dde3" rx="0.37"/>
<rect x="308.72" y="47.88" width="4.80" height="1.08" fill="#969ba4" rx="0.49"/>
<rect x="308.32" y="44.80" width="4.75" height="0.83" fill="#d8dde3" rx="0.37"/>
<rect x="308.86" y="45.53" width="4.75" height="1.07" fill="#969ba4" rx="0.49"/>
<rect x="308.46" y="42.50" width="4.70" height="0.82" fill="#d8dde3" rx="0.36"/>
<rect x="309.00" y="43.23" width="4.70" height="1.07" fill="#969ba4" rx="0.48"/>
<rect x="308.61" y="40.25" width="4.66" height="0.82" fill="#d8dde3" rx="0.36"/>
<rect x="309.14" y="40.97" width="4.66" height="1.06" fill="#969ba4" rx="0.48"/>
<rect x="308.75" y="38.05" width="4.61" height="0.81" fill="#d8dde3" rx="0.35"/>
<rect x="309.28" y="38.76" width="4.61" height="1.05" fill="#969ba4" rx="0.47"/>
<rect x="308.89" y="35.88" width="4.57" height="0.80" fill="#d8dde3" rx="0.35"/>
<rect x="309.41" y="36.59" width="4.57" height="1.04" fill="#969ba4" rx="0.47"/>
<rect x="309.02" y="33.76" width="4.53" height="0.80" fill="#d8dde3" rx="0.35"/>
<rect x="309.54" y="34.46" width="4.53" height="1.03" fill="#969ba4" rx="0.46"/>
<rect x="309.16" y="31.68" width="4.48" height="0.79" fill="#d8dde3" rx="0.34"/>
<rect x="309.67" y="32.37" width="4.48" height="1.02" fill="#969ba4" rx="0.46"/>
<rect x="309.29" y="29.63" width="4.44" height="0.78" fill="#d8dde3" rx="0.34"/>
<rect x="309.80" y="30.32" width="4.44" height="1.01" fill="#969ba4" rx="0.46"/>
<rect x="309.42" y="27.63" width="4.40" height="0.78" fill="#d8dde3" rx="0.34"/>
<rect x="309.92" y="28.30" width="4.40" height="1.00" fill="#969ba4" rx="0.45"/>
<rect x="309.54" y="25.66" width="4.36" height="0.77" fill="#d8dde3" rx="0.34"/>
<rect x="310.04" y="26.33" width="4.36" height="0.99" fill="#969ba4" rx="0.45"/>
<rect x="309.67" y="23.72" width="4.32" height="0.77" fill="#d8dde3" rx="0.33"/>
<rect x="310.16" y="24.39" width="4.32" height="0.99" fill="#969ba4" rx="0.44"/>
<rect x="309.79" y="21.82" width="4.28" height="0.76" fill="#d8dde3" rx="0.33"/>
<rect x="310.28" y="22.48" width="4.28" height="0.98" fill="#969ba4" rx="0.44"/>
<rect x="309.91" y="19.95" width="4.25" height="0.75" fill="#d8dde3" rx="0.33"/>
<rect x="310.40" y="20.61" width="4.25" height="0.97" fill="#969ba4" rx="0.44"/>
<rect x="310.02" y="18.12" width="4.21" height="0.75" fill="#d8dde3" rx="0.32"/>
<rect x="310.51" y="18.77" width="4.21" height="0.96" fill="#969ba4" rx="0.43"/>
<rect x="310.14" y="16.32" width="4.17" height="0.74" fill="#d8dde3" rx="0.32"/>
<rect x="310.62" y="16.96" width="4.17" height="0.96" fill="#969ba4" rx="0.43"/>
<rect x="310.25" y="14.54" width="4.14" height="0.74" fill="#d8dde3" rx="0.32"/>
<rect x="310.73" y="15.18" width="4.14" height="0.95" fill="#969ba4" rx="0.42"/>
<rect x="310.36" y="12.80" width="4.10" height="0.73" fill="#d8dde3" rx="0.32"/>
<rect x="310.84" y="13.43" width="4.10" height="0.94" fill="#969ba4" rx="0.42"/>
<rect x="310.47" y="11.09" width="4.07" height="0.73" fill="#d8dde3" rx="0.31"/>
<rect x="310.94" y="11.72" width="4.07" height="0.93" fill="#969ba4" rx="0.42"/>
<rect x="310.58" y="9.41" width="4.03" height="0.72" fill="#d8dde3" rx="0.31"/>
<rect x="311.05" y="10.03" width="4.03" height="0.93" fill="#969ba4" rx="0.41"/>
<rect x="340.02" y="191.99" width="7.74" height="1.29" fill="#d8dde3" rx="0.60"/>
<rect x="340.92" y="193.18" width="7.74" height="1.69" fill="#969ba4" rx="0.79"/>
<rect x="339.76" y="185.94" width="7.62" height="1.27" fill="#d8dde3" rx="0.59"/>
<rect x="340.64" y="187.11" width="7.62" height="1.66" fill="#969ba4" rx="0.78"/>
<rect x="339.50" y="180.07" width="7.50" height="1.25" fill="#d8dde3" rx="0.58"/>
<rect x="340.36" y="181.23" width="7.50" height="1.64" fill="#969ba4" rx="0.77"/>
<rect x="339.25" y="174.39" width="7.38" height="1.24" fill="#d8dde3" rx="0.57"/>
<rect x="340.10" y="175.53" width="7.38" height="1.61" fill="#969ba4" rx="0.76"/>
<rect x="339.01" y="168.88" width="7.27" height="1.22" fill="#d8dde3" rx="0.56"/>
<rect x="339.85" y="170.00" width="7.27" height="1.59" fill="#969ba4" rx="0.75"/>
<rect x="338.77" y="163.54" width="7.16" height="1.20" fill="#d8dde3" rx="0.55"/>
<rect x="339.60" y="164.64" width="7.16" height="1.57" fill="#969ba4" rx="0.73"/>
<rect x="338.55" y="158.35" width="7.06" height="1.19" fill="#d8dde3" rx="0.54"/>
<rect x="339.36" y="159.44" width="7.06" height="1.55" fill="#969ba4" rx="0.72"/>
<rect x="338.33" y="153.31" width="6.96" height="1.17" fill="#d8dde3" rx="0.54"/>
<rect x="339.13" y="154.38" width="6.96" height="1.53" fill="#969ba4" rx="0.71"/>
<rect x="338.11" y="148.42" width="6.86" height="1.15" fill="#d8dde3" rx="0.53"/>
<rect x="338.90" y="149.48" width="6.86" height="1.51" fill="#969ba4" rx="0.70"/>
<rect x="337.90" y="143.67" width="6.76" height="1.14" fill="#d8dde3" rx="0.52"/>
<rect x="338.68" y="144.71" width="6.76" height="1.49" fill="#969ba4" rx="0.69"/>
<rect x="337.70" y="139.04" width="6.67" height="1.13" fill="#d8dde3" rx="0.51"/>
<rect x="338.47" y="140.07" width="6.67" height="1.47" fill="#969ba4" rx="0.68"/>
<rect x="337.50" y="134.55" width="6.57" height="1.11" fill="#d8dde3" rx="0.51"/>
<rect x="338.26" y="135.56" width="6.57" height="1.45" fill="#969ba4" rx="0.67"/>
<rect x="337.31" y="130.17" width="6.49" height="1.10" fill="#d8dde3" rx="0.50"/>
<rect x="338.06" y="131.17" width="6.49" height="1.43" fill="#969ba4" rx="0.67"/>
<rect x="337.12" y="125.91" width="6.40" height="1.08" fill="#d8dde3" rx="0.49"/>
<rect x="337.86" y="126.90" width="6.40" height="1.41" fill="#969ba4" rx="0.66"/>
<rect x="336.94" y="121.77" width="6.31" height="1.07" fill="#d8dde3" rx="0.49"/>
<rect x="337.67" y="122.74" width="6.31" height="1.40" fill="#969ba4" rx="0.65"/>
<rect x="336.76" y="117.73" width="6.23" height="1.06" fill="#d8dde3" rx="0.48"/>
<rect x="337.48" y="118.69" width="6.23" height="1.38" fill="#969ba4" rx="0.64"/>
<rect x="336.59" y="113.79" width="6.15" height="1.05" fill="#d8dde3" rx="0.47"/>
<rect x="337.30" y="114.74" width="6.15" height="1.36" fill="#969ba4" rx="0.63"/>
<rect x="336.42" y="109.96" width="6.07" height="1.03" fill="#d8dde3" rx="0.47"/>
<rect x="337.12" y="110.89" width="6.07" height="1.35" fill="#969ba4" rx="0.62"/>
<rect x="336.26" y="106.22" width="6.00" height="1.02" fill="#d8dde3" rx="0.46"/>
<rect x="336.95" y="107.14" width="6.00" height="1.33" fill="#969ba4" rx="0.62"/>
<rect x="336.10" y="102.57" width="5.92" height="1.01" fill="#d8dde3" rx="0.46"/>
<rect x="336.78" y="103.48" width="5.92" height="1.32" fill="#969ba4" rx="0.61"/>
<rect x="335.94" y="99.01" width="5.85" height="1.00" fill="#d8dde3" rx="0.45"/>
<rect x="336.62" y="99.91" width="5.85" height="1.30" fill="#969ba4" rx="0.60"/>
<rect x="335.79" y="95.54" width="5.78" height="0.99" fill="#d8dde3" rx="0.44"/>
<rect x="336.46" y="96.43" width="5.78" height="1.29" fill="#969ba4" rx="0.59"/>
<rect x="335.64" y="92.15" width="5.71" height="0.98" fill="#d8dde3" rx="0.44"/>
<rect x="336.30" y="93.03" width="5.71" height="1.27" fill="#969ba4" rx="0.59"/>
<rect x="335.50" y="88.84" width="5.65" height="0.97" fill="#d8dde3" rx="0.43"/>
<rect x="336.15" y="89.71" width="5.65" height="1.26" fill="#969ba4" rx="0.58"/>
<rect x="335.35" y="85.61" width="5.58" height="0.96" fill="#d8dde3" rx="0.43"/>
<rect x="336.00" y="86.47" width="5.58" height="1.24" fill="#969ba4" rx="0.57"/>
<rect x="335.22" y="82.45" width="5.52" height="0.95" fill="#d8dde3" rx="0.42"/>
<rect x="335.85" y="83.30" width="5.52" height="1.23" fill="#969ba4" rx="0.57"/>
<rect x="335.08" y="79.36" width="5.45" height="0.94" fill="#d8dde3" rx="0.42"/>
<rect x="335.71" y="80.20" width="5.45" height="1.22" fill="#969ba4" rx="0.56"/>
<rect x="334.95" y="76.35" width="5.39" height="0.93" fill="#d8dde3" rx="0.41"/>
<rect x="335.57" y="77.17" width="5.39" height="1.21" fill="#969ba4" rx="0.55"/>
<rect x="334.82" y="73.40" width="5.33" height="0.92" fill="#d8dde3" rx="0.41"/>
<rect x="335.43" y="74.22" width="5.33" height="1.19" fill="#969ba4" rx="0.55"/>
<rect x="334.69" y="70.51" width="5.27" height="0.91" fill="#d8dde3" rx="0.41"/>
<rect x="335.30" y="71.32" width="5.27" height="1.18" fill="#969ba4" rx="0.54"/>
<rect x="334.57" y="67.69" width="5.22" height="0.90" fill="#d8dde3" rx="0.40"/>
<rect x="335.17" y="68.49" width="5.22" height="1.17" fill="#969ba4" rx="0.53"/>
<rect x="334.45" y="64.92" width="5.16" height="0.89" fill="#d8dde3" rx="0.40"/>
<rect x="335.04" y="65.72" width="5.16" height="1.16" fill="#969ba4" rx="0.53"/>
<rect x="334.33" y="62.22" width="5.11" height="0.89" fill="#d8dde3" rx="0.39"/>
<rect x="334.92" y="63.01" width="5.11" height="1.15" fill="#969ba4" rx="0.52"/>
<rect x="334.21" y="59.58" width="5.05" height="0.88" fill="#d8dde3" rx="0.39"/>
<rect x="334.80" y="60.35" width="5.05" height="1.14" fill="#969ba4" rx="0.52"/>
<rect x="334.10" y="56.98" width="5.00" height="0.87" fill="#d8dde3" rx="0.38"/>
<rect x="334.68" y="57.75" width="5.00" height="1.13" fill="#969ba4" rx="0.51"/>
<rect x="333.99" y="54.45" width="4.95" height="0.86" fill="#d8dde3" rx="0.38"/>
<rect x="334.56" y="55.21" width="4.95" height="1.11" fill="#969ba4" rx="0.51"/>
<rect x="333.88" y="51.96" width="4.90" height="0.85" fill="#d8dde3" rx="0.38"/>
<rect x="334.44" y="52.71" width="4.90" height="1.10" fill="#969ba4" rx="0.50"/>
<rect x="333.77" y="49.52" width="4.85" height="0.85" fill="#d8dde3" rx="0.37"/>
<rect x="334.33" y="50.27" width="4.85" height="1.09" fill="#969ba4" rx="0.50"/>
<rect x="333.67" y="47.14" width="4.80" height="0.84" fill="#d8dde3" rx="0.37"/>
<rect x="334.22" y="47.88" width="4.80" height="1.08" fill="#969ba4" rx="0.49"/>
<rect x="333.56" y="44.80" width="4.75" height="0.83" fill="#d8dde3" rx="0.37"/>
<rect x="334.11" y="45.53" width="4.75" height="1.07" fill="#969ba4" rx="0.49"/>
<rect x="333.46" y="42.50" width="4.70" height="0.82" fill="#d8dde3" rx="0.36"/>
<rect x="334.01" y="43.23" width="4.70" height="1.07" fill="#969ba4" rx="0.48"/>
<rect x="333.36" y="40.25" width="4.66" height="0.82" fill="#d8dde3" rx="0.36"/>
<rect x="333.90" y="40.97" width="4.66" height="1.06" fill="#969ba4" rx="0.48"/>
<rect x="333.27" y="38.05" width="4.61" height="0.81" fill="#d8dde3" rx="0.35"/>
<rect x="333.80" y="38.76" width="4.61" height="1.05" fill="#969ba4" rx="0.47"/>
<rect x="333.17" y="35.88" width="4.57" height="0.80" fill="#d8dde3" rx="0.35"/>
<rect x="333.70" y="36.59" width="4.57" height="1.04" fill="#969ba4" rx="0.47"/>
<rect x="333.08" y="33.76" width="4.53" height="0.80" fill="#d8dde3" rx="0.35"/>
<rect x="333.60" y="34.46" width="4.53" height="1.03" fill="#969ba4" rx="0.46"/>
<rect x="332.99" y="31.68" width="4.48" height="0.79" fill="#d8dde3" rx="0.34"/>
<rect x="333.51" y="32.37" width="4.48" height="1.02" fill="#969ba4" rx="0.46"/>
<rect x="332.90" y="29.63" width="4.44" height="0.78" fill="#d8dde3" rx="0.34"/>
<rect x="333.41" y="30.32" width="4.44" height="1.01" fill="#969ba4" rx="0.46"/>
<rect x="332.81" y="27.63" width="4.40" height="0.78" fill="#d8dde3" rx="0.34"/>
<rect x="333.32" y="28.30" width="4.40" height="1.00" fill="#969ba4" rx="0.45"/>
<rect x="332.72" y="25.66" width="4.36" height="0.77" fill="#d8dde3" rx="0.34"/>
<rect x="333.23" y="26.33" width="4.36" height="0.99" fill="#969ba4" rx="0.45"/>
<rect x="332.64" y="23.72" width="4.32" height="0.77" fill="#d8dde3" rx="0.33"/>
<rect x="333.14" y="24.39" width="4.32" height="0.99" fill="#969ba4" rx="0.44"/>
<rect x="332.56" y="21.82" width="4.28" height="0.76" fill="#d8dde3" rx="0.33"/>
<rect x="333.05" y="22.48" width="4.28" height="0.98" fill="#969ba4" rx="0.44"/>
<rect x="332.47" y="19.95" width="4.25" height="0.75" fill="#d8dde3" rx="0.33"/>
<rect x="332.96" y="20.61" width="4.25" height="0.97" fill="#969ba4" rx="0.44"/>
<rect x="332.39" y="18.12" width="4.21" height="0.75" fill="#d8dde3" rx="0.32"/>
<rect x="332.88" y="18.77" width="4.21" height="0.96" fill="#969ba4" rx="0.43"/>
<rect x="332.31" y="16.32" width="4.17" height="0.74" fill="#d8dde3" rx="0.32"/>
<rect x="332.80" y="16.96" width="4.17" height="0.96" fill="#969ba4" rx="0.43"/>
<rect x="332.24" y="14.54" width="4.14" height="0.74" fill="#d8dde3" rx="0.32"/>
<rect x="332.71" y="15.18" width="4.14" height="0.95" fill="#969ba4" rx="0.42"/>
<rect x="332.16" y="12.80" width="4.10" height="0.73" fill="#d8dde3" rx="0.32"/>
<rect x="332.63" y="13.43" width="4.10" height="0.94" fill="#969ba4" rx="0.42"/>
<rect x="332.09" y="11.09" width="4.07" height="0.73" fill="#d8dde3" rx="0.31"/>
<rect x="332.55" y="11.72" width="4.07" height="0.93" fill="#969ba4" rx="0.42"/>
<rect x="332.01" y="9.41" width="4.03" height="0.72" fill="#d8dde3" rx="0.31"/>
<rect x="332.48" y="10.03" width="4.03" height="0.93" fill="#969ba4" rx="0.41"/>
<rect x="470.62" y="191.99" width="7.74" height="1.29" fill="#d8dde3" rx="0.60"/>
<rect x="471.52" y="193.18" width="7.74" height="1.69" fill="#969ba4" rx="0.79"/>
<rect x="468.29" y="185.94" width="7.62" height="1.27" fill="#d8dde3" rx="0.59"/>
<rect x="469.16" y="187.11" width="7.62" height="1.66" fill="#969ba4" rx="0.78"/>
<rect x="466.02" y="180.07" width="7.50" height="1.25" fill="#d8dde3" rx="0.58"/>
<rect x="466.88" y="181.23" width="7.50" height="1.64" fill="#969ba4" rx="0.77"/>
<rect x="463.82" y="174.39" width="7.38" height="1.24" fill="#d8dde3" rx="0.57"/>
<rect x="464.68" y="175.53" width="7.38" height="1.61" fill="#969ba4" rx="0.76"/>
<rect x="461.69" y="168.88" width="7.27" height="1.22" fill="#d8dde3" rx="0.56"/>
<rect x="462.53" y="170.00" width="7.27" height="1.59" fill="#969ba4" rx="0.75"/>
<rect x="459.63" y="163.54" width="7.16" height="1.20" fill="#d8dde3" rx="0.55"/>
<rect x="460.45" y="164.64" width="7.16" height="1.57" fill="#969ba4" rx="0.73"/>
<rect x="457.62" y="158.35" width="7.06" height="1.19" fill="#d8dde3" rx="0.54"/>
<rect x="458.44" y="159.44" width="7.06" height="1.55" fill="#969ba4" rx="0.72"/>
<rect x="455.67" y="153.31" width="6.96" height="1.17" fill="#d8dde3" rx="0.54"/>
<rect x="456.48" y="154.38" width="6.96" height="1.53" fill="#969ba4" rx="0.71"/>
<rect x="453.78" y="148.42" width="6.86" height="1.15" fill="#d8dde3" rx="0.53"/>
<rect x="454.57" y="149.48" width="6.86" height="1.51" fill="#969ba4" rx="0.70"/>
<rect x="451.95" y="143.67" width="6.76" height="1.14" fill="#d8dde3" rx="0.52"/>
<rect x="452.73" y="144.71" width="6.76" height="1.49" fill="#969ba4" rx="0.69"/>
<rect x="450.16" y="139.04" width="6.67" height="1.13" fill="#d8dde3" rx="0.51"/>
<rect x="450.93" y="140.07" width="6.67" height="1.47" fill="#969ba4" rx="0.68"/>
<rect x="448.42" y="134.55" width="6.57" height="1.11" fill="#d8dde3" rx="0.51"/>
<rect x="449.18" y="135.56" width="6.57" height="1.45" fill="#969ba4" rx="0.67"/>
<rect x="446.73" y="130.17" width="6.49" height="1.10" fill="#d8dde3" rx="0.50"/>
<rect x="447.48" y="131.17" width="6.49" height="1.43" fill="#969ba4" rx="0.67"/>
<rect x="445.08" y="125.91" width="6.40" height="1.08" fill="#d8dde3" rx="0.49"/>
<rect x="445.82" y="126.90" width="6.40" height="1.41" fill="#969ba4" rx="0.66"/>
<rect x="443.48" y="121.77" width="6.31" height="1.07" fill="#d8dde3" rx="0.49"/>
<rect x="444.21" y="122.74" width="6.31" height="1.40" fill="#969ba4" rx="0.65"/>
<rect x="441.92" y="117.73" width="6.23" height="1.06" fill="#d8dde3" rx="0.48"/>
<rect x="442.64" y="118.69" width="6.23" height="1.38" fill="#969ba4" rx="0.64"/>
<rect x="440.40" y="113.79" width="6.15" height="1.05" fill="#d8dde3" rx="0.47"/>
<rect x="441.11" y="114.74" width="6.15" height="1.36" fill="#969ba4" rx="0.63"/>
<rect x="438.92" y="109.96" width="6.07" height="1.03" fill="#d8dde3" rx="0.47"/>
<rect x="439.62" y="110.89" width="6.07" height="1.35" fill="#969ba4" rx="0.62"/>
<rect x="437.47" y="106.22" width="6.00" height="1.02" fill="#d8dde3" rx="0.46"/>
<rect x="438.16" y="107.14" width="6.00" height="1.33" fill="#969ba4" rx="0.62"/>
<rect x="436.06" y="102.57" width="5.92" height="1.01" fill="#d8dde3" rx="0.46"/>
<rect x="436.74" y="103.48" width="5.92" height="1.32" fill="#969ba4" rx="0.61"/>
<rect x="434.68" y="99.01" width="5.85" height="1.00" fill="#d8dde3" rx="0.45"/>
<rect x="435.36" y="99.91" width="5.85" height="1.30" fill="#969ba4" rx="0.60"/>
<rect x="433.34" y="95.54" width="5.78" height="0.99" fill="#d8dde3" rx="0.44"/>
<rect x="434.01" y="96.43" width="5.78" height="1.29" fill="#969ba4" rx="0.59"/>
<rect x="432.03" y="92.15" width="5.71" height="0.98" fill="#d8dde3" rx="0.44"/>
<rect x="432.69" y="93.03" width="5.71" height="1.27" fill="#969ba4" rx="0.59"/>
<rect x="430.75" y="88.84" width="5.65" height="0.97" fill="#d8dde3" rx="0.43"/>
<rect x="431.40" y="89.71" width="5.65" height="1.26" fill="#969ba4" rx="0.58"/>
<rect x="429.50" y="85.61" width="5.58" height="0.96" fill="#d8dde3" rx="0.43"/>
<rect x="430.15" y="86.47" width="5.58" height="1.24" fill="#969ba4" rx="0.57"/>
<rect x="428.28" y="82.45" width="5.52" height="0.95" fill="#d8dde3" rx="0.42"/>
<rect x="428.92" y="83.30" width="5.52" height="1.23" fill="#969ba4" rx="0.57"/>
<rect x="427.09" y="79.36" width="5.45" height="0.94" fill="#d8dde3" rx="0.42"/>
<rect x="427.72" y="80.20" width="5.45" height="1.22" fill="#969ba4" rx="0.56"/>
<rect x="425.92" y="76.35" width="5.39" height="0.93" fill="#d8dde3" rx="0.41"/>
<rect x="426.54" y="77.17" width="5.39" height="1.21" fill="#969ba4" rx="0.55"/>
<rect x="424.78" y="73.40" width="5.33" height="0.92" fill="#d8dde3" rx="0.41"/>
<rect x="425.40" y="74.22" width="5.33" height="1.19" fill="#969ba4" rx="0.55"/>
<rect x="423.67" y="70.51" width="5.27" height="0.91" fill="#d8dde3" rx="0.41"/>
<rect x="424.27" y="71.32" width="5.27" height="1.18" fill="#969ba4" rx="0.54"/>
<rect x="422.58" y="67.69" width="5.22" height="0.90" fill="#d8dde3" rx="0.40"/>
<rect x="423.18" y="68.49" width="5.22" height="1.17" fill="#969ba4" rx="0.53"/>
<rect x="421.51" y="64.92" width="5.16" height="0.89" fill="#d8dde3" rx="0.40"/>
<rect x="422.10" y="65.72" width="5.16" height="1.16" fill="#969ba4" rx="0.53"/>
<rect x="420.46" y="62.22" width="5.11" height="0.89" fill="#d8dde3" rx="0.39"/>
<rect x="421.05" y="63.01" width="5.11" height="1.15" fill="#969ba4" rx="0.52"/>
<rect x="419.44" y="59.58" width="5.05" height="0.88" fill="#d8dde3" rx="0.39"/>
<rect x="420.02" y="60.35" width="5.05" height="1.14" fill="#969ba4" rx="0.52"/>
<rect x="418.44" y="56.98" width="5.00" height="0.87" fill="#d8dde3" rx="0.38"/>
<rect x="419.01" y="57.75" width="5.00" height="1.13" fill="#969ba4" rx="0.51"/>
<rect x="417.46" y="54.45" width="4.95" height="0.86" fill="#d8dde3" rx="0.38"/>
<rect x="418.03" y="55.21" width="4.95" height="1.11" fill="#969ba4" rx="0.51"/>
<rect x="416.50" y="51.96" width="4.90" height="0.85" fill="#d8dde3" rx="0.38"/>
<rect x="417.06" y="52.71" width="4.90" height="1.10" fill="#969ba4" rx="0.50"/>
<rect x="415.55" y="49.52" width="4.85" height="0.85" fill="#d8dde3" rx="0.37"/>
<rect x="416.11" y="50.27" width="4.85" height="1.09" fill="#969ba4" rx="0.50"/>
<rect x="414.63" y="47.14" width="4.80" height="0.84" fill="#d8dde3" rx="0.37"/>
<rect x="415.19" y="47.88" width="4.80" height="1.08" fill="#969ba4" rx="0.49"/>
<rect x="413.73" y="44.80" width="4.75" height="0.83" fill="#d8dde3" rx="0.37"/>
<rect x="414.28" y="45.53" width="4.75" height="1.07" fill="#969ba4" rx="0.49"/>
<rect x="412.84" y="42.50" width="4.70" height="0.82" fill="#d8dde3" rx="0.36"/>
<rect x="413.38" y="43.23" width="4.70" height="1.07" fill="#969ba4" rx="0.48"/>
<rect x="411.97" y="40.25" width="4.66" height="0.82" fill="#d8dde3" rx="0.36"/>
<rect x="412.51" y="40.97" width="4.66" height="1.06" fill="#969ba4" rx="0.48"/>
<rect x="411.12" y="38.05" width="4.61" height="0.81" fill="#d8dde3" rx="0.35"/>
<rect x="411.65" y="38.76" width="4.61" height="1.05" fill="#969ba4" rx="0.47"/>
<rect x="410.28" y="35.88" width="4.57" height="0.80" fill="#d8dde3" rx="0.35"/>
<rect x="410.81" y="36.59" width="4.57" height="1.04" fill="#969ba4" rx="0.47"/>
<rect x="409.46" y="33.76" width="4.53" height="0.80" fill="#d8dde3" rx="0.35"/>
<rect x="409.98" y="34.46" width="4.53" height="1.03" fill="#969ba4" rx="0.46"/>
<rect x="408.66" y="31.68" width="4.48" height="0.79" fill="#d8dde3" rx="0.34"/>
<rect x="409.17" y="32.37" width="4.48" height="1.02" fill="#969ba4" rx="0.46"/>
<rect x="407.87" y="29.63" width="4.44" height="0.78" fill="#d8dde3" rx="0.34"/>
<rect x="408.38" y="30.32" width="4.44" height="1.01" fill="#969ba4" rx="0.46"/>
<rect x="407.09" y="27.63" width="4.40" height="0.78" fill="#d8dde3" rx="0.34"/>
<rect x="407.60" y="28.30" width="4.40" height="1.00" fill="#969ba4" rx="0.45"/>
<rect x="406.33" y="25.66" width="4.36" height="0.77" fill="#d8dde3" rx="0.34"/>
<rect x="406.83" y="26.33" width="4.36" height="0.99" fill="#969ba4" rx="0.45"/>
<rect x="405.58" y="23.72" width="4.32" height="0.77" fill="#d8dde3" rx="0.33"/>
<rect x="406.08" y="24.39" width="4.32" height="0.99" fill="#969ba4" rx="0.44"/>
<rect x="404.84" y="21.82" width="4.28" height="0.76" fill="#d8dde3" rx="0.33"/>
<rect x="405.34" y="22.48" width="4.28" height="0.98" fill="#969ba4" rx="0.44"/>
<rect x="404.12" y="19.95" width="4.25" height="0.75" fill="#d8dde3" rx="0.33"/>
<rect x="404.61" y="20.61" width="4.25" height="0.97" fill="#969ba4" rx="0.44"/>
<rect x="403.41" y="18.12" width="4.21" height="0.75" fill="#d8dde3" rx="0.32"/>
<rect x="403.90" y="18.77" width="4.21" height="0.96" fill="#969ba4" rx="0.43"/>
<rect x="402.72" y="16.32" width="4.17" height="0.74" fill="#d8dde3" rx="0.32"/>
<rect x="403.20" y="16.96" width="4.17" height="0.96" fill="#969ba4" rx="0.43"/>
<rect x="402.03" y="14.54" width="4.14" height="0.74" fill="#d8dde3" rx="0.32"/>
<rect x="402.51" y="15.18" width="4.14" height="0.95" fill="#969ba4" rx="0.42"/>
<rect x="401.36" y="12.80" width="4.10" height="0.73" fill="#d8dde3" rx="0.32"/>
<rect x="401.83" y="13.43" width="4.10" height="0.94" fill="#969ba4" rx="0.42"/>
<rect x="400.70" y="11.09" width="4.07" height="0.73" fill="#d8dde3" rx="0.31"/>
<rect x="401.17" y="11.72" width="4.07" height="0.93" fill="#969ba4" rx="0.42"/>
<rect x="400.05" y="9.41" width="4.03" height="0.72" fill="#d8dde3" rx="0.31"/>
<rect x="400.51" y="10.03" width="4.03" height="0.93" fill="#969ba4" rx="0.41"/>
<rect x="511.02" y="191.99" width="7.74" height="1.29" fill="#d8dde3" rx="0.60"/>
<rect x="511.91" y="193.18" width="7.74" height="1.69" fill="#969ba4" rx="0.79"/>
<rect x="508.04" y="185.94" width="7.62" height="1.27" fill="#d8dde3" rx="0.59"/>
<rect x="508.91" y="187.11" width="7.62" height="1.66" fill="#969ba4" rx="0.78"/>
<rect x="505.15" y="180.07" width="7.50" height="1.25" fill="#d8dde3" rx="0.58"/>
<rect x="506.01" y="181.23" width="7.50" height="1.64" fill="#969ba4" rx="0.77"/>
<rect x="502.35" y="174.39" width="7.38" height="1.24" fill="#d8dde3" rx="0.57"/>
<rect x="503.20" y="175.53" width="7.38" height="1.61" fill="#969ba4" rx="0.76"/>
<rect x="499.64" y="168.88" width="7.27" height="1.22" fill="#d8dde3" rx="0.56"/>
<rect x="500.48" y="170.00" width="7.27" height="1.59" fill="#969ba4" rx="0.75"/>
<rect x="497.00" y="163.54" width="7.16" height="1.20" fill="#d8dde3" rx="0.55"/>
<rect x="497.83" y="164.64" width="7.16" height="1.57" fill="#969ba4" rx="0.73"/>
<rect x="494.45" y="158.35" width="7.06" height="1.19" fill="#d8dde3" rx="0.54"/>
<rect x="495.26" y="159.44" width="7.06" height="1.55" fill="#969ba4" rx="0.72"/>
<rect x="491.97" y="153.31" width="6.96" height="1.17" fill="#d8dde3" rx="0.54"/>
<rect x="492.77" y="154.38" width="6.96" height="1.53" fill="#969ba4" rx="0.71"/>
<rect x="489.56" y="148.42" width="6.86" height="1.15" fill="#d8dde3" rx="0.53"/>
<rect x="490.35" y="149.48" width="6.86" height="1.51" fill="#969ba4" rx="0.70"/>
<rect x="487.22" y="143.67" width="6.76" height="1.14" fill="#d8dde3" rx="0.52"/>
<rect x="488.00" y="144.71" width="6.76" height="1.49" fill="#969ba4" rx="0.69"/>
<rect x="484.94" y="139.04" width="6.67" height="1.13" fill="#d8dde3" rx="0.51"/>
<rect x="485.71" y="140.07" width="6.67" height="1.47" fill="#969ba4" rx="0.68"/>
<rect x="482.72" y="134.55" width="6.57" height="1.11" fill="#d8dde3" rx="0.51"/>
<rect x="483.48" y="135.56" width="6.57" height="1.45" fill="#969ba4" rx="0.67"/>
<rect x="480.57" y="130.17" width="6.49" height="1.10" fill="#d8dde3" rx="0.50"/>
<rect x="481.32" y="131.17" width="6.49" height="1.43" fill="#969ba4" rx="0.67"/>
<rect x="478.47" y="125.91" width="6.40" height="1.08" fill="#d8dde3" rx="0.49"/>
<rect x="479.21" y="126.90" width="6.40" height="1.41" fill="#969ba4" rx="0.66"/>
<rect x="476.43" y="121.77" width="6.31" height="1.07" fill="#d8dde3" rx="0.49"/>
<rect x="477.16" y="122.74" width="6.31" height="1.40" fill="#969ba4" rx="0.65"/>
<rect x="474.44" y="117.73" width="6.23" height="1.06" fill="#d8dde3" rx="0.48"/>
<rect x="475.16" y="118.69" width="6.23" height="1.38" fill="#969ba4" rx="0.64"/>
<rect x="472.50" y="113.79" width="6.15" height="1.05" fill="#d8dde3" rx="0.47"/>
<rect x="473.21" y="114.74" width="6.15" height="1.36" fill="#969ba4" rx="0.63"/>
<rect x="470.61" y="109.96" width="6.07" height="1.03" fill="#d8dde3" rx="0.47"/>
<rect x="471.31" y="110.89" width="6.07" height="1.35" fill="#969ba4" rx="0.62"/>
<rect x="468.77" y="106.22" width="6.00" height="1.02" fill="#d8dde3" rx="0.46"/>
<rect x="469.46" y="107.14" width="6.00" height="1.33" fill="#969ba4" rx="0.62"/>
<rect x="466.97" y="102.57" width="5.92" height="1.01" fill="#d8dde3" rx="0.46"/>
<rect x="467.66" y="103.48" width="5.92" height="1.32" fill="#969ba4" rx="0.61"/>
<rect x="465.22" y="99.01" width="5.85" height="1.00" fill="#d8dde3" rx="0.45"/>
<rect x="465.90" y="99.91" width="5.85" height="1.30" fill="#969ba4" rx="0.60"/>
<rect x="463.51" y="95.54" width="5.78" height="0.99" fill="#d8dde3" rx="0.44"/>
<rect x="464.18" y="96.43" width="5.78" height="1.29" fill="#969ba4" rx="0.59"/>
<rect x="461.84" y="92.15" width="5.71" height="0.98" fill="#d8dde3" rx="0.44"/>
<rect x="462.50" y="93.03" width="5.71" height="1.27" fill="#969ba4" rx="0.59"/>
<rect x="460.21" y="88.84" width="5.65" height="0.97" fill="#d8dde3" rx="0.43"/>
<rect x="460.86" y="89.71" width="5.65" height="1.26" fill="#969ba4" rx="0.58"/>
<rect x="458.62" y="85.61" width="5.58" height="0.96" fill="#d8dde3" rx="0.43"/>
<rect x="459.26" y="86.47" width="5.58" height="1.24" fill="#969ba4" rx="0.57"/>
<rect x="457.06" y="82.45" width="5.52" height="0.95" fill="#d8dde3" rx="0.42"/>
<rect x="457.70" y="83.30" width="5.52" height="1.23" fill="#969ba4" rx="0.57"/>
<rect x="455.54" y="79.36" width="5.45" height="0.94" fill="#d8dde3" rx="0.42"/>
<rect x="456.17" y="80.20" width="5.45" height="1.22" fill="#969ba4" rx="0.56"/>
<rect x="454.06" y="76.35" width="5.39" height="0.93" fill="#d8dde3" rx="0.41"/>
<rect x="454.68" y="77.17" width="5.39" height="1.21" fill="#969ba4" rx="0.55"/>
<rect x="452.60" y="73.40" width="5.33" height="0.92" fill="#d8dde3" rx="0.41"/>
<rect x="453.22" y="74.22" width="5.33" height="1.19" fill="#969ba4" rx="0.55"/>
<rect x="451.18" y="70.51" width="5.27" height="0.91" fill="#d8dde3" rx="0.41"/>
<rect x="451.79" y="71.32" width="5.27" height="1.18" fill="#969ba4" rx="0.54"/>
<rect x="449.79" y="67.69" width="5.22" height="0.90" fill="#d8dde3" rx="0.40"/>
<rect x="450.40" y="68.49" width="5.22" height="1.17" fill="#969ba4" rx="0.53"/>
<rect x="448.43" y="64.92" width="5.16" height="0.89" fill="#d8dde3" rx="0.40"/>
<rect x="449.03" y="65.72" width="5.16" height="1.16" fill="#969ba4" rx="0.53"/>
<rect x="447.10" y="62.22" width="5.11" height="0.89" fill="#d8dde3" rx="0.39"/>
<rect x="447.69" y="63.01" width="5.11" height="1.15" fill="#969ba4" rx="0.52"/>
<rect x="445.80" y="59.58" width="5.05" height="0.88" fill="#d8dde3" rx="0.39"/>
<rect x="446.38" y="60.35" width="5.05" height="1.14" fill="#969ba4" rx="0.52"/>
<rect x="444.52" y="56.98" width="5.00" height="0.87" fill="#d8dde3" rx="0.38"/>
<rect x="445.10" y="57.75" width="5.00" height="1.13" fill="#969ba4" rx="0.51"/>
<rect x="443.27" y="54.45" width="4.95" height="0.86" fill="#d8dde3" rx="0.38"/>
<rect x="443.84" y="55.21" width="4.95" height="1.11" fill="#969ba4" rx="0.51"/>
<rect x="442.05" y="51.96" width="4.90" height="0.85" fill="#d8dde3" rx="0.38"/>
<rect x="442.61" y="52.71" width="4.90" height="1.10" fill="#969ba4" rx="0.50"/>
<rect x="440.85" y="49.52" width="4.85" height="0.85" fill="#d8dde3" rx="0.37"/>
<rect x="441.41" y="50.27" width="4.85" height="1.09" fill="#969ba4" rx="0.50"/>
<rect x="439.67" y="47.14" width="4.80" height="0.84" fill="#d8dde3" rx="0.37"/>
<rect x="440.23" y="47.88" width="4.80" height="1.08" fill="#969ba4" rx="0.49"/>
<rect x="438.52" y="44.80" width="4.75" height="0.83" fill="#d8dde3" rx="0.37"/>
<rect x="439.07" y="45.53" width="4.75" height="1.07" fill="#969ba4" rx="0.49"/>
<rect x="437.39" y="42.50" width="4.70" height="0.82" fill="#d8dde3" rx="0.36"/>
<rect x="437.93" y="43.23" width="4.70" height="1.07" fill="#969ba4" rx="0.48"/>
<rect x="436.28" y="40.25" width="4.66" height="0.82" fill="#d8dde3" rx="0.36"/>
<rect x="436.82" y="40.97" width="4.66" height="1.06" fill="#969ba4" rx="0.48"/>
<rect x="435.20" y="38.05" width="4.61" height="0.81" fill="#d8dde3" rx="0.35"/>
<rect x="435.73" y="38.76" width="4.61" height="1.05" fill="#969ba4" rx="0.47"/>
<rect x="434.13" y="35.88" width="4.57" height="0.80" fill="#d8dde3" rx="0.35"/>
<rect x="434.66" y="36.59" width="4.57" height="1.04" fill="#969ba4" rx="0.47"/>
<rect x="433.08" y="33.76" width="4.53" height="0.80" fill="#d8dde3" rx="0.35"/>
<rect x="433.61" y="34.46" width="4.53" height="1.03" fill="#969ba4" rx="0.46"/>
<rect x="432.06" y="31.68" width="4.48" height="0.79" fill="#d8dde3" rx="0.34"/>
<rect x="432.58" y="32.37" width="4.48" height="1.02" fill="#969ba4" rx="0.46"/>
<rect x="431.05" y="29.63" width="4.44" height="0.78" fill="#d8dde3" rx="0.34"/>
<rect x="431.56" y="30.32" width="4.44" height="1.01" fill="#969ba4" rx="0.46"/>
<rect x="430.06" y="27.63" width="4.40" height="0.78" fill="#d8dde3" rx="0.34"/>
<rect x="430.57" y="28.30" width="4.40" height="1.00" fill="#969ba4" rx="0.45"/>
<rect x="429.09" y="25.66" width="4.36" height="0.77" fill="#d8dde3" rx="0.34"/>
<rect x="429.59" y="26.33" width="4.36" height="0.99" fill="#969ba4" rx="0.45"/>
<rect x="428.14" y="23.72" width="4.32" height="0.77" fill="#d8dde3" rx="0.33"/>
<rect x="428.64" y="24.39" width="4.32" height="0.99" fill="#969ba4" rx="0.44"/>
<rect x="427.20" y="21.82" width="4.28" height="0.76" fill="#d8dde3" rx="0.33"/>
<rect x="427.70" y="22.48" width="4.28" height="0.98" fill="#969ba4" rx="0.44"/>
<rect x="426.28" y="19.95" width="4.25" height="0.75" fill="#d8dde3" rx="0.33"/>
<rect x="426.77" y="20.61" width="4.25" height="0.97" fill="#969ba4" rx="0.44"/>
<rect x="425.38" y="18.12" width="4.21" height="0.75" fill="#d8dde3" rx="0.32"/>
<rect x="425.86" y="18.77" width="4.21" height="0.96" fill="#969ba4" rx="0.43"/>
<rect x="424.49" y="16.32" width="4.17" height="0.74" fill="#d8dde3" rx="0.32"/>
<rect x="424.97" y="16.96" width="4.17" height="0.96" fill="#969ba4" rx="0.43"/>
<rect x="423.62" y="14.54" width="4.14" height="0.74" fill="#d8dde3" rx="0.32"/>
<rect x="424.10" y="15.18" width="4.14" height="0.95" fill="#969ba4" rx="0.42"/>
<rect x="422.76" y="12.80" width="4.10" height="0.73" fill="#d8dde3" rx="0.32"/>
<rect x="423.23" y="13.43" width="4.10" height="0.94" fill="#969ba4" rx="0.42"/>
<rect x="421.92" y="11.09" width="4.07" height="0.73" fill="#d8dde3" rx="0.31"/>
<rect x="422.39" y="11.72" width="4.07" height="0.93" fill="#969ba4" rx="0.42"/>
<rect x="421.09" y="9.41" width="4.03" height="0.72" fill="#d8dde3" rx="0.31"/>
<rect x="421.55" y="10.03" width="4.03" height="0.93" fill="#969ba4" rx="0.41"/>
<ellipse cx="191.87" cy="202.17" rx="4.62" ry="0.74" transform="rotate(54.9 191.87 202.17)" fill="#646b7a" fill-opacity="1.00"/>
<ellipse cx="193.95" cy="195.96" rx="4.55" ry="0.73" transform="rotate(54.9 193.95 195.96)" fill="#646b7a" fill-opacity="1.00"/>
<ellipse cx="195.98" cy="189.94" rx="4.48" ry="0.72" transform="rotate(54.9 195.98 189.94)" fill="#646b7a" fill-opacity="1.00"/>
<ellipse cx="197.93" cy="184.12" rx="4.41" ry="0.71" transform="rotate(54.9 197.93 184.12)" fill="#646b7a" fill-opacity="0.99"/>
<ellipse cx="199.83" cy="178.46" rx="4.35" ry="0.70" transform="rotate(54.9 199.83 178.46)" fill="#646b7a" fill-opacity="0.96"/>
<ellipse cx="201.68" cy="172.98" rx="4.28" ry="0.69" transform="rotate(54.9 201.68 172.98)" fill="#646b7a" fill-opacity="0.93"/>
<ellipse cx="203.47" cy="167.66" rx="4.22" ry="0.68" transform="rotate(55.0 203.47 167.66)" fill="#646b7a" fill-opacity="0.90"/>
<ellipse cx="205.20" cy="162.49" rx="4.16" ry="0.67" transform="rotate(55.0 205.20 162.49)" fill="#646b7a" fill-opacity="0.87"/>
<ellipse cx="206.89" cy="157.47" rx="4.10" ry="0.66" transform="rotate(55.0 206.89 157.47)" fill="#646b7a" fill-opacity="0.84"/>
<ellipse cx="208.53" cy="152.59" rx="4.05" ry="0.65" transform="rotate(55.0 208.53 152.59)" fill="#646b7a" fill-opacity="0.81"/>
<ellipse cx="210.13" cy="147.85" rx="3.99" ry="0.64" transform="rotate(55.0 210.13 147.85)" fill="#646b7a" fill-opacity="0.79"/>
<ellipse cx="211.68" cy="143.24" rx="3.94" ry="0.63" transform="rotate(55.0 211.68 143.24)" fill="#646b7a" fill-opacity="0.76"/>
<ellipse cx="213.19" cy="138.75" rx="3.89" ry="0.62" transform="rotate(55.0 213.19 138.75)" fill="#646b7a" fill-opacity="0.74"/>
<ellipse cx="214.65" cy="134.38" rx="3.84" ry="0.62" transform="rotate(55.1 214.65 134.38)" fill="#646b7a" fill-opacity="0.71"/>
<ellipse cx="216.08" cy="130.13" rx="3.79" ry="0.61" transform="rotate(55.1 216.08 130.13)" fill="#646b7a" fill-opacity="0.69"/>
<ellipse cx="217.48" cy="125.98" rx="3.74" ry="0.60" transform="rotate(55.1 217.48 125.98)" fill="#646b7a" fill-opacity="0.66"/>
<ellipse cx="218.83" cy="121.95" rx="3.69" ry="0.59" transform="rotate(55.1 218.83 121.95)" fill="#646b7a" fill-opacity="0.64"/>
<ellipse cx="220.16" cy="118.01" rx="3.65" ry="0.58" transform="rotate(55.1 220.16 118.01)" fill="#646b7a" fill-opacity="0.62"/>
<ellipse cx="221.45" cy="114.18" rx="3.61" ry="0.58" transform="rotate(55.1 221.45 114.18)" fill="#646b7a" fill-opacity="0.60"/>
<ellipse cx="222.70" cy="110.43" rx="3.56" ry="0.57" transform="rotate(55.2 222.70 110.43)" fill="#646b7a" fill-opacity="0.58"/>
<ellipse cx="223.93" cy="106.78" rx="3.52" ry="0.56" transform="rotate(55.2 223.93 106.78)" fill="#646b7a" fill-opacity="0.56"/>
<ellipse cx="225.13" cy="103.22" rx="3.48" ry="0.56" transform="rotate(55.2 225.13 103.22)" fill="#646b7a" fill-opacity="0.54"/>
<ellipse cx="226.30" cy="99.74" rx="3.44" ry="0.55" transform="rotate(55.2 226.30 99.74)" fill="#646b7a" fill-opacity="0.52"/>
<ellipse cx="227.44" cy="96.35" rx="3.40" ry="0.54" transform="rotate(55.2 227.44 96.35)" fill="#646b7a" fill-opacity="0.50"/>
<ellipse cx="228.55" cy="93.03" rx="3.36" ry="0.54" transform="rotate(55.2 228.55 93.03)" fill="#646b7a" fill-opacity="0.48"/>
<ellipse cx="229.64" cy="89.79" rx="3.32" ry="0.53" transform="rotate(55.2 229.64 89.79)" fill="#646b7a" fill-opacity="0.46"/>
<ellipse cx="230.71" cy="86.62" rx="3.29" ry="0.52" transform="rotate(55.3 230.71 86.62)" fill="#646b7a" fill-opacity="0.44"/>
<ellipse cx="231.75" cy="83.53" rx="3.25" ry="0.52" transform="rotate(55.3 231.75 83.53)" fill="#646b7a" fill-opacity="0.43"/>
<ellipse cx="232.76" cy="80.50" rx="3.22" ry="0.51" transform="rotate(55.3 232.76 80.50)" fill="#646b7a" fill-opacity="0.41"/>
<ellipse cx="233.76" cy="77.54" rx="3.18" ry="0.51" transform="rotate(55.3 233.76 77.54)" fill="#646b7a" fill-opacity="0.39"/>
<ellipse cx="234.73" cy="74.65" rx="3.15" ry="0.50" transform="rotate(55.3 234.73 74.65)" fill="#646b7a" fill-opacity="0.37"/>
<ellipse cx="235.69" cy="71.81" rx="3.12" ry="0.50" transform="rotate(55.3 235.69 71.81)" fill="#646b7a" fill-opacity="0.36"/>
<ellipse cx="236.62" cy="69.04" rx="3.08" ry="0.49" transform="rotate(55.3 236.62 69.04)" fill="#646b7a" fill-opacity="0.34"/>
<ellipse cx="237.53" cy="66.32" rx="3.05" ry="0.49" transform="rotate(55.4 237.53 66.32)" fill="#646b7a" fill-opacity="0.33"/>
<ellipse cx="238.42" cy="63.67" rx="3.02" ry="0.48" transform="rotate(55.4 238.42 63.67)" fill="#646b7a" fill-opacity="0.31"/>
<ellipse cx="239.30" cy="61.06" rx="2.99" ry="0.48" transform="rotate(55.4 239.30 61.06)" fill="#646b7a" fill-opacity="0.30"/>
<ellipse cx="240.16" cy="58.51" rx="2.96" ry="0.47" transform="rotate(55.4 240.16 58.51)" fill="#646b7a" fill-opacity="0.28"/>
<ellipse cx="241.00" cy="56.01" rx="2.93" ry="0.47" transform="rotate(55.4 241.00 56.01)" fill="#646b7a" fill-opacity="0.27"/>
<ellipse cx="241.82" cy="53.56" rx="2.91" ry="0.46" transform="rotate(55.4 241.82 53.56)" fill="#646b7a" fill-opacity="0.26"/>
<ellipse cx="242.63" cy="51.16" rx="2.88" ry="0.46" transform="rotate(55.5 242.63 51.16)" fill="#646b7a" fill-opacity="0.25"/>
<ellipse cx="243.42" cy="48.81" rx="2.85" ry="0.45" transform="rotate(55.5 243.42 48.81)" fill="#646b7a" fill-opacity="0.25"/>
<ellipse cx="244.19" cy="46.50" rx="2.82" ry="0.45" transform="rotate(55.5 244.19 46.50)" fill="#646b7a" fill-opacity="0.25"/>
<ellipse cx="244.95" cy="44.24" rx="2.80" ry="0.44" transform="rotate(55.5 244.95 44.24)" fill="#646b7a" fill-opacity="0.25"/>
<ellipse cx="245.70" cy="42.02" rx="2.77" ry="0.44" transform="rotate(55.5 245.70 42.02)" fill="#646b7a" fill-opacity="0.25"/>
<ellipse cx="246.43" cy="39.84" rx="2.75" ry="0.44" transform="rotate(55.5 246.43 39.84)" fill="#646b7a" fill-opacity="0.25"/>
<ellipse cx="247.15" cy="37.71" rx="2.72" ry="0.43" transform="rotate(55.5 247.15 37.71)" fill="#646b7a" fill-opacity="0.25"/>
<ellipse cx="247.86" cy="35.61" rx="2.70" ry="0.43" transform="rotate(55.6 247.86 35.61)" fill="#646b7a" fill-opacity="0.25"/>
<ellipse cx="248.55" cy="33.55" rx="2.68" ry="0.42" transform="rotate(55.6 248.55 33.55)" fill="#646b7a" fill-opacity="0.25"/>
<ellipse cx="249.23" cy="31.53" rx="2.65" ry="0.42" transform="rotate(55.6 249.23 31.53)" fill="#646b7a" fill-opacity="0.25"/>
<ellipse cx="249.90" cy="29.54" rx="2.63" ry="0.42" transform="rotate(55.6 249.90 29.54)" fill="#646b7a" fill-opacity="0.25"/>
<ellipse cx="250.55" cy="27.59" rx="2.61" ry="0.41" transform="rotate(55.6 250.55 27.59)" fill="#646b7a" fill-opacity="0.25"/>
<ellipse cx="251.20" cy="25.68" rx="2.58" ry="0.41" transform="rotate(55.6 251.20 25.68)" fill="#646b7a" fill-opacity="0.25"/>
<ellipse cx="251.83" cy="23.79" rx="2.56" ry="0.40" transform="rotate(55.6 251.83 23.79)" fill="#646b7a" fill-opacity="0.25"/>
<ellipse cx="252.45" cy="21.94" rx="2.54" ry="0.40" transform="rotate(55.7 252.45 21.94)" fill="#646b7a" fill-opacity="0.25"/>
<ellipse cx="253.06" cy="20.13" rx="2.52" ry="0.40" transform="rotate(55.7 253.06 20.13)" fill="#646b7a" fill-opacity="0.25"/>
<ellipse cx="253.66" cy="18.34" rx="2.50" ry="0.39" transform="rotate(55.7 253.66 18.34)" fill="#646b7a" fill-opacity="0.25"/>
<ellipse cx="254.25" cy="16.58" rx="2.48" ry="0.39" transform="rotate(55.7 254.25 16.58)" fill="#646b7a" fill-opacity="0.25"/>
<ellipse cx="254.83" cy="14.86" rx="2.46" ry="0.39" transform="rotate(55.7 254.83 14.86)" fill="#646b7a" fill-opacity="0.25"/>
<ellipse cx="362.08" cy="202.17" rx="4.50" ry="0.74" transform="rotate(57.0 362.08 202.17)" fill="#646b7a" fill-opacity="1.00"/>
<ellipse cx="361.47" cy="195.96" rx="4.43" ry="0.73" transform="rotate(57.1 361.47 195.96)" fill="#646b7a" fill-opacity="1.00"/>
<ellipse cx="360.87" cy="189.94" rx="4.37" ry="0.72" transform="rotate(57.1 360.87 189.94)" fill="#646b7a" fill-opacity="1.00"/>
<ellipse cx="360.29" cy="184.12" rx="4.30" ry="0.71" transform="rotate(57.1 360.29 184.12)" fill="#646b7a" fill-opacity="0.99"/>
<ellipse cx="359.73" cy="178.46" rx="4.24" ry="0.70" transform="rotate(57.1 359.73 178.46)" fill="#646b7a" fill-opacity="0.96"/>
<ellipse cx="359.19" cy="172.98" rx="4.18" ry="0.69" transform="rotate(57.1 359.19 172.98)" fill="#646b7a" fill-opacity="0.93"/>
<ellipse cx="358.66" cy="167.66" rx="4.12" ry="0.68" transform="rotate(57.1 358.66 167.66)" fill="#646b7a" fill-opacity="0.90"/>
<ellipse cx="358.15" cy="162.49" rx="4.06" ry="0.67" transform="rotate(57.1 358.15 162.49)" fill="#646b7a" fill-opacity="0.87"/>
<ellipse cx="357.65" cy="157.47" rx="4.00" ry="0.66" transform="rotate(57.2 357.65 157.47)" fill="#646b7a" fill-opacity="0.84"/>
<ellipse cx="357.16" cy="152.59" rx="3.95" ry="0.65" transform="rotate(57.2 357.16 152.59)" fill="#646b7a" fill-opacity="0.81"/>
<ellipse cx="356.69" cy="147.85" rx="3.89" ry="0.64" transform="rotate(57.2 356.69 147.85)" fill="#646b7a" fill-opacity="0.79"/>
<ellipse cx="356.24" cy="143.24" rx="3.84" ry="0.63" transform="rotate(57.2 356.24 143.24)" fill="#646b7a" fill-opacity="0.76"/>
<ellipse cx="355.79" cy="138.75" rx="3.79" ry="0.62" transform="rotate(57.2 355.79 138.75)" fill="#646b7a" fill-opacity="0.74"/>
<ellipse cx="355.36" cy="134.38" rx="3.74" ry="0.62" transform="rotate(57.2 355.36 134.38)" fill="#646b7a" fill-opacity="0.71"/>
<ellipse cx="354.94" cy="130.13" rx="3.69" ry="0.61" transform="rotate(57.2 354.94 130.13)" fill="#646b7a" fill-opacity="0.69"/>
<ellipse cx="354.52" cy="125.98" rx="3.65" ry="0.60" transform="rotate(57.3 354.52 125.98)" fill="#646b7a" fill-opacity="0.66"/>
<ellipse cx="354.12" cy="121.95" rx="3.60" ry="0.59" transform="rotate(57.3 354.12 121.95)" fill="#646b7a" fill-opacity="0.64"/>
<ellipse cx="353.73" cy="118.01" rx="3.56" ry="0.58" transform="rotate(57.3 353.73 118.01)" fill="#646b7a" fill-opacity="0.62"/>
<ellipse cx="353.35" cy="114.18" rx="3.51" ry="0.58" transform="rotate(57.3 353.35 114.18)" fill="#646b7a" fill-opacity="0.60"/>
<ellipse cx="352.98" cy="110.43" rx="3.47" ry="0.57" transform="rotate(57.3 352.98 110.43)" fill="#646b7a" fill-opacity="0.58"/>
<ellipse cx="352.62" cy="106.78" rx="3.43" ry="0.56" transform="rotate(57.3 352.62 106.78)" fill="#646b7a" fill-opacity="0.56"/>
<ellipse cx="352.27" cy="103.22" rx="3.39" ry="0.56" transform="rotate(57.4 352.27 103.22)" fill="#646b7a" fill-opacity="0.54"/>
<ellipse cx="351.92" cy="99.74" rx="3.35" ry="0.55" transform="rotate(57.4 351.92 99.74)" fill="#646b7a" fill-opacity="0.52"/>
<ellipse cx="351.59" cy="96.35" rx="3.31" ry="0.54" transform="rotate(57.4 351.59 96.35)" fill="#646b7a" fill-opacity="0.50"/>
<ellipse cx="351.26" cy="93.03" rx="3.28" ry="0.54" transform="rotate(57.4 351.26 93.03)" fill="#646b7a" fill-opacity="0.48"/>
<ellipse cx="350.93" cy="89.79" rx="3.24" ry="0.53" transform="rotate(57.4 350.93 89.79)" fill="#646b7a" fill-opacity="0.46"/>
<ellipse cx="350.62" cy="86.62" rx="3.21" ry="0.52" transform="rotate(57.4 350.62 86.62)" fill="#646b7a" fill-opacity="0.44"/>
<ellipse cx="350.31" cy="83.53" rx="3.17" ry="0.52" transform="rotate(57.4 350.31 83.53)" fill="#646b7a" fill-opacity="0.43"/>
<ellipse cx="350.01" cy="80.50" rx="3.14" ry="0.51" transform="rotate(57.5 350.01 80.50)" fill="#646b7a" fill-opacity="0.41"/>
<ellipse cx="349.72" cy="77.54" rx="3.10" ry="0.51" transform="rotate(57.5 349.72 77.54)" fill="#646b7a" fill-opacity="0.39"/>
<ellipse cx="349.43" cy="74.65" rx="3.07" ry="0.50" transform="rotate(57.5 349.43 74.65)" fill="#646b7a" fill-opacity="0.37"/>
<ellipse cx="349.15" cy="71.81" rx="3.04" ry="0.50" transform="rotate(57.5 349.15 71.81)" fill="#646b7a" fill-opacity="0.36"/>
<ellipse cx="348.88" cy="69.04" rx="3.01" ry="0.49" transform="rotate(57.5 348.88 69.04)" fill="#646b7a" fill-opacity="0.34"/>
<ellipse cx="348.61" cy="66.32" rx="2.98" ry="0.49" transform="rotate(57.5 348.61 66.32)" fill="#646b7a" fill-opacity="0.33"/>
<ellipse cx="348.34" cy="63.67" rx="2.95" ry="0.48" transform="rotate(57.5 348.34 63.67)" fill="#646b7a" fill-opacity="0.31"/>
<ellipse cx="348.09" cy="61.06" rx="2.92" ry="0.48" transform="rotate(57.6 348.09 61.06)" fill="#646b7a" fill-opacity="0.30"/>
<ellipse cx="347.83" cy="58.51" rx="2.89" ry="0.47" transform="rotate(57.6 347.83 58.51)" fill="#646b7a" fill-opacity="0.28"/>
<ellipse cx="347.58" cy="56.01" rx="2.86" ry="0.47" transform="rotate(57.6 347.58 56.01)" fill="#646b7a" fill-opacity="0.27"/>
<ellipse cx="347.34" cy="53.56" rx="2.83" ry="0.46" transform="rotate(57.6 347.34 53.56)" fill="#646b7a" fill-opacity="0.26"/>
<ellipse cx="347.10" cy="51.16" rx="2.81" ry="0.46" transform="rotate(57.6 347.10 51.16)" fill="#646b7a" fill-opacity="0.25"/>
<ellipse cx="346.87" cy="48.81" rx="2.78" ry="0.45" transform="rotate(57.6 346.87 48.81)" fill="#646b7a" fill-opacity="0.25"/>
<ellipse cx="346.64" cy="46.50" rx="2.76" ry="0.45" transform="rotate(57.6 346.64 46.50)" fill="#646b7a" fill-opacity="0.25"/>
<ellipse cx="346.42" cy="44.24" rx="2.73" ry="0.44" transform="rotate(57.7 346.42 44.24)" fill="#646b7a" fill-opacity="0.25"/>
<ellipse cx="346.20" cy="42.02" rx="2.70" ry="0.44" transform="rotate(57.7 346.20 42.02)" fill="#646b7a" fill-opacity="0.25"/>
<ellipse cx="345.98" cy="39.84" rx="2.68" ry="0.44" transform="rotate(57.7 345.98 39.84)" fill="#646b7a" fill-opacity="0.25"/>
<ellipse cx="345.77" cy="37.71" rx="2.66" ry="0.43" transform="rotate(57.7 345.77 37.71)" fill="#646b7a" fill-opacity="0.25"/>
<ellipse cx="345.56" cy="35.61" rx="2.63" ry="0.43" transform="rotate(57.7 345.56 35.61)" fill="#646b7a" fill-opacity="0.25"/>
<ellipse cx="345.36" cy="33.55" rx="2.61" ry="0.42" transform="rotate(57.7 345.36 33.55)" fill="#646b7a" fill-opacity="0.25"/>
<ellipse cx="345.16" cy="31.53" rx="2.59" ry="0.42" transform="rotate(57.7 345.16 31.53)" fill="#646b7a" fill-opacity="0.25"/>
<ellipse cx="344.96" cy="29.54" rx="2.56" ry="0.42" transform="rotate(57.8 344.96 29.54)" fill="#646b7a" fill-opacity="0.25"/>
<ellipse cx="344.77" cy="27.59" rx="2.54" ry="0.41" transform="rotate(57.8 344.77 27.59)" fill="#646b7a" fill-opacity="0.25"/>
<ellipse cx="344.58" cy="25.68" rx="2.52" ry="0.41" transform="rotate(57.8 344.58 25.68)" fill="#646b7a" fill-opacity="0.25"/>
<ellipse cx="344.39" cy="23.79" rx="2.50" ry="0.40" transform="rotate(57.8 344.39 23.79)" fill="#646b7a" fill-opacity="0.25"/>
<ellipse cx="344.21" cy="21.94" rx="2.48" ry="0.40" transform="rotate(57.8 344.21 21.94)" fill="#646b7a" fill-opacity="0.25"/>
<ellipse cx="344.03" cy="20.13" rx="2.46" ry="0.40" transform="rotate(57.8 344.03 20.13)" fill="#646b7a" fill-opacity="0.25"/>
<ellipse cx="343.85" cy="18.34" rx="2.44" ry="0.39" transform="rotate(57.8 343.85 18.34)" fill="#646b7a" fill-opacity="0.25"/>
<ellipse cx="343.67" cy="16.58" rx="2.42" ry="0.39" transform="rotate(57.9 343.67 16.58)" fill="#646b7a" fill-opacity="0.25"/>
<ellipse cx="343.50" cy="14.86" rx="2.40" ry="0.39" transform="rotate(57.9 343.50 14.86)" fill="#646b7a" fill-opacity="0.25"/>
<ellipse cx="282.41" cy="203.12" rx="1.09" ry="0.99" fill="#a3a39d"/>
<ellipse cx="284.99" cy="202.92" rx="1.39" ry="1.19" fill="#e3e3df"/>
<ellipse cx="283.06" cy="196.90" rx="1.07" ry="0.98" fill="#a3a39d"/>
<ellipse cx="285.60" cy="196.70" rx="1.37" ry="1.17" fill="#e3e3df"/>
<ellipse cx="283.69" cy="190.87" rx="1.06" ry="0.96" fill="#a3a39d"/>
<ellipse cx="286.19" cy="190.68" rx="1.35" ry="1.15" fill="#e3e3df"/>
<ellipse cx="284.30" cy="185.03" rx="1.04" ry="0.95" fill="#a3a39d"/>
<ellipse cx="286.76" cy="184.84" rx="1.33" ry="1.14" fill="#e3e3df"/>
<ellipse cx="284.89" cy="179.36" rx="1.03" ry="0.93" fill="#a3a39d"/>
<ellipse cx="287.32" cy="179.18" rx="1.31" ry="1.12" fill="#e3e3df"/>
<ellipse cx="285.47" cy="173.87" rx="1.01" ry="0.92" fill="#a3a39d"/>
<ellipse cx="287.85" cy="173.68" rx="1.29" ry="1.10" fill="#e3e3df"/>
<ellipse cx="286.02" cy="168.53" rx="1.00" ry="0.90" fill="#a3a39d"/>
<ellipse cx="288.37" cy="168.35" rx="1.27" ry="1.09" fill="#e3e3df"/>
<ellipse cx="286.56" cy="163.35" rx="0.98" ry="0.89" fill="#a3a39d"/>
<ellipse cx="288.88" cy="163.17" rx="1.25" ry="1.07" fill="#e3e3df"/>
<ellipse cx="287.09" cy="158.32" rx="0.97" ry="0.88" fill="#a3a39d"/>
<ellipse cx="289.37" cy="158.14" rx="1.23" ry="1.05" fill="#e3e3df"/>
<ellipse cx="287.60" cy="153.43" rx="0.95" ry="0.87" fill="#a3a39d"/>
<ellipse cx="289.85" cy="153.26" rx="1.21" ry="1.04" fill="#e3e3df"/>
<ellipse cx="288.09" cy="148.67" rx="0.94" ry="0.85" fill="#a3a39d"/>
<ellipse cx="290.32" cy="148.50" rx="1.20" ry="1.03" fill="#e3e3df"/>
<ellipse cx="288.58" cy="144.05" rx="0.93" ry="0.84" fill="#a3a39d"/>
<ellipse cx="290.77" cy="143.88" rx="1.18" ry="1.01" fill="#e3e3df"/>
<ellipse cx="289.05" cy="139.55" rx="0.91" ry="0.83" fill="#a3a39d"/>
<ellipse cx="291.21" cy="139.39" rx="1.16" ry="1.00" fill="#e3e3df"/>
<ellipse cx="289.50" cy="135.17" rx="0.90" ry="0.82" fill="#a3a39d"/>
<ellipse cx="291.63" cy="135.01" rx="1.15" ry="0.98" fill="#e3e3df"/>
<ellipse cx="289.95" cy="130.91" rx="0.89" ry="0.81" fill="#a3a39d"/>
<ellipse cx="292.05" cy="130.75" rx="1.13" ry="0.97" fill="#e3e3df"/>
<ellipse cx="290.38" cy="126.76" rx="0.88" ry="0.80" fill="#a3a39d"/>
<ellipse cx="292.46" cy="126.60" rx="1.12" ry="0.96" fill="#e3e3df"/>
<ellipse cx="290.80" cy="122.71" rx="0.87" ry="0.79" fill="#a3a39d"/>
<ellipse cx="292.85" cy="122.55" rx="1.10" ry="0.95" fill="#e3e3df"/>
<ellipse cx="291.21" cy="118.77" rx="0.86" ry="0.78" fill="#a3a39d"/>
<ellipse cx="293.24" cy="118.61" rx="1.09" ry="0.93" fill="#e3e3df"/>
<ellipse cx="291.61" cy="114.92" rx="0.85" ry="0.77" fill="#a3a39d"/>
<ellipse cx="293.61" cy="114.77" rx="1.08" ry="0.92" fill="#e3e3df"/>
<ellipse cx="292.01" cy="111.17" rx="0.84" ry="0.76" fill="#a3a39d"/>
<ellipse cx="293.98" cy="111.02" rx="1.06" ry="0.91" fill="#e3e3df"/>
<ellipse cx="292.39" cy="107.51" rx="0.83" ry="0.75" fill="#a3a39d"/>
<ellipse cx="294.34" cy="107.36" rx="1.05" ry="0.90" fill="#e3e3df"/>
<ellipse cx="292.76" cy="103.94" rx="0.82" ry="0.74" fill="#a3a39d"/>
<ellipse cx="294.69" cy="103.79" rx="1.04" ry="0.89" fill="#e3e3df"/>
<ellipse cx="293.12" cy="100.45" rx="0.81" ry="0.73" fill="#a3a39d"/>
<ellipse cx="295.03" cy="100.31" rx="1.03" ry="0.88" fill="#e3e3df"/>
<ellipse cx="293.48" cy="97.05" rx="0.80" ry="0.72" fill="#a3a39d"/>
<ellipse cx="295.36" cy="96.91" rx="1.01" ry="0.87" fill="#e3e3df"/>
<ellipse cx="293.83" cy="93.73" rx="0.79" ry="0.72" fill="#a3a39d"/>
<ellipse cx="295.69" cy="93.58" rx="1.00" ry="0.86" fill="#e3e3df"/>
<ellipse cx="294.16" cy="90.48" rx="0.78" ry="0.71" fill="#a3a39d"/>
<ellipse cx="296.00" cy="90.34" rx="0.99" ry="0.85" fill="#e3e3df"/>
<ellipse cx="294.50" cy="87.30" rx="0.77" ry="0.70" fill="#a3a39d"/>
<ellipse cx="296.31" cy="87.16" rx="0.98" ry="0.84" fill="#e3e3df"/>
<ellipse cx="294.82" cy="84.20" rx="0.76" ry="0.69" fill="#a3a39d"/>
<ellipse cx="296.62" cy="84.06" rx="0.97" ry="0.83" fill="#e3e3df"/>
<ellipse cx="295.14" cy="81.17" rx="0.75" ry="0.68" fill="#a3a39d"/>
<ellipse cx="296.91" cy="81.03" rx="0.96" ry="0.82" fill="#e3e3df"/>
<ellipse cx="295.45" cy="78.20" rx="0.74" ry="0.68" fill="#a3a39d"/>
<ellipse cx="297.20" cy="78.07" rx="0.95" ry="0.81" fill="#e3e3df"/>
<ellipse cx="295.75" cy="75.30" rx="0.74" ry="0.67" fill="#a3a39d"/>
<ellipse cx="297.49" cy="75.16" rx="0.94" ry="0.80" fill="#e3e3df"/>
<ellipse cx="296.04" cy="72.46" rx="0.73" ry="0.66" fill="#a3a39d"/>
<ellipse cx="297.76" cy="72.33" rx="0.93" ry="0.79" fill="#e3e3df"/>
<ellipse cx="296.33" cy="69.68" rx="0.72" ry="0.65" fill="#a3a39d"/>
<ellipse cx="298.04" cy="69.55" rx="0.92" ry="0.79" fill="#e3e3df"/>
<ellipse cx="296.62" cy="66.96" rx="0.71" ry="0.65" fill="#a3a39d"/>
<ellipse cx="298.30" cy="66.83" rx="0.91" ry="0.78" fill="#e3e3df"/>
<ellipse cx="296.90" cy="64.29" rx="0.70" ry="0.64" fill="#a3a39d"/>
<ellipse cx="298.56" cy="64.16" rx="0.90" ry="0.77" fill="#e3e3df"/>
<ellipse cx="297.17" cy="61.68" rx="0.70" ry="0.63" fill="#a3a39d"/>
<ellipse cx="298.82" cy="61.56" rx="0.89" ry="0.76" fill="#e3e3df"/>
<ellipse cx="297.44" cy="59.13" rx="0.69" ry="0.63" fill="#a3a39d"/>
<ellipse cx="299.07" cy="59.00" rx="0.88" ry="0.75" fill="#e3e3df"/>
<ellipse cx="297.70" cy="56.62" rx="0.68" ry="0.62" fill="#a3a39d"/>
<ellipse cx="299.31" cy="56.50" rx="0.87" ry="0.75" fill="#e3e3df"/>
<ellipse cx="297.95" cy="54.17" rx="0.68" ry="0.62" fill="#a3a39d"/>
<ellipse cx="299.55" cy="54.04" rx="0.86" ry="0.74" fill="#e3e3df"/>
<ellipse cx="298.20" cy="51.76" rx="0.67" ry="0.61" fill="#a3a39d"/>
<ellipse cx="299.79" cy="51.64" rx="0.85" ry="0.73" fill="#e3e3df"/>
<ellipse cx="298.45" cy="49.40" rx="0.66" ry="0.60" fill="#a3a39d"/>
<ellipse cx="300.02" cy="49.28" rx="0.84" ry="0.72" fill="#e3e3df"/>
<ellipse cx="298.69" cy="47.09" rx="0.66" ry="0.60" fill="#a3a39d"/>
<ellipse cx="300.24" cy="46.97" rx="0.84" ry="0.72" fill="#e3e3df"/>
<ellipse cx="298.93" cy="44.82" rx="0.65" ry="0.59" fill="#a3a39d"/>
<ellipse cx="300.47" cy="44.70" rx="0.83" ry="0.71" fill="#e3e3df"/>
<ellipse cx="299.16" cy="42.59" rx="0.64" ry="0.59" fill="#a3a39d"/>
<ellipse cx="300.68" cy="42.48" rx="0.82" ry="0.70" fill="#e3e3df"/>
<ellipse cx="299.39" cy="40.41" rx="0.64" ry="0.58" fill="#a3a39d"/>
<ellipse cx="300.90" cy="40.30" rx="0.81" ry="0.70" fill="#e3e3df"/>
<ellipse cx="299.61" cy="38.27" rx="0.63" ry="0.57" fill="#a3a39d"/>
<ellipse cx="301.11" cy="38.15" rx="0.80" ry="0.69" fill="#e3e3df"/>
<ellipse cx="299.83" cy="36.17" rx="0.63" ry="0.57" fill="#a3a39d"/>
<ellipse cx="301.31" cy="36.05" rx="0.80" ry="0.68" fill="#e3e3df"/>
<ellipse cx="300.05" cy="34.10" rx="0.62" ry="0.56" fill="#a3a39d"/>
<ellipse cx="301.51" cy="33.99" rx="0.79" ry="0.68" fill="#e3e3df"/>
<ellipse cx="300.26" cy="32.08" rx="0.62" ry="0.56" fill="#a3a39d"/>
<ellipse cx="301.71" cy="31.96" rx="0.78" ry="0.67" fill="#e3e3df"/>
<ellipse cx="300.47" cy="30.09" rx="0.61" ry="0.55" fill="#a3a39d"/>
<ellipse cx="301.91" cy="29.97" rx="0.78" ry="0.67" fill="#e3e3df"/>
<ellipse cx="300.67" cy="28.13" rx="0.60" ry="0.55" fill="#a3a39d"/>
<ellipse cx="302.10" cy="28.02" rx="0.77" ry="0.66" fill="#e3e3df"/>
<ellipse cx="300.87" cy="26.21" rx="0.60" ry="0.54" fill="#a3a39d"/>
<ellipse cx="302.28" cy="26.10" rx="0.76" ry="0.65" fill="#e3e3df"/>
<ellipse cx="301.07" cy="24.32" rx="0.59" ry="0.54" fill="#a3a39d"/>
<ellipse cx="302.47" cy="24.22" rx="0.76" ry="0.65" fill="#e3e3df"/>
<ellipse cx="301.26" cy="22.47" rx="0.59" ry="0.53" fill="#a3a39d"/>
<ellipse cx="302.65" cy="22.36" rx="0.75" ry="0.64" fill="#e3e3df"/>
<ellipse cx="301.45" cy="20.65" rx="0.58" ry="0.53" fill="#a3a39d"/>
<ellipse cx="302.83" cy="20.54" rx="0.74" ry="0.64" fill="#e3e3df"/>
<ellipse cx="301.64" cy="18.86" rx="0.58" ry="0.53" fill="#a3a39d"/>
<ellipse cx="303.00" cy="18.75" rx="0.74" ry="0.63" fill="#e3e3df"/>
<ellipse cx="301.82" cy="17.10" rx="0.57" ry="0.52" fill="#a3a39d"/>
<ellipse cx="303.18" cy="16.99" rx="0.73" ry="0.63" fill="#e3e3df"/>
<ellipse cx="302.00" cy="15.37" rx="0.57" ry="0.52" fill="#a3a39d"/>
<ellipse cx="303.34" cy="15.26" rx="0.72" ry="0.62" fill="#e3e3df"/>
<ellipse cx="454.04" cy="203.12" rx="1.09" ry="0.99" fill="#a3a39d"/>
<ellipse cx="456.62" cy="202.92" rx="1.39" ry="1.19" fill="#e3e3df"/>
<ellipse cx="451.96" cy="196.90" rx="1.07" ry="0.98" fill="#a3a39d"/>
<ellipse cx="454.50" cy="196.70" rx="1.37" ry="1.17" fill="#e3e3df"/>
<ellipse cx="449.95" cy="190.87" rx="1.06" ry="0.96" fill="#a3a39d"/>
<ellipse cx="452.45" cy="190.68" rx="1.35" ry="1.15" fill="#e3e3df"/>
<ellipse cx="448.00" cy="185.03" rx="1.04" ry="0.95" fill="#a3a39d"/>
<ellipse cx="450.47" cy="184.84" rx="1.33" ry="1.14" fill="#e3e3df"/>
<ellipse cx="446.11" cy="179.36" rx="1.03" ry="0.93" fill="#a3a39d"/>
<ellipse cx="448.54" cy="179.18" rx="1.31" ry="1.12" fill="#e3e3df"/>
<ellipse cx="444.28" cy="173.87" rx="1.01" ry="0.92" fill="#a3a39d"/>
<ellipse cx="446.67" cy="173.68" rx="1.29" ry="1.10" fill="#e3e3df"/>
<ellipse cx="442.50" cy="168.53" rx="1.00" ry="0.90" fill="#a3a39d"/>
<ellipse cx="444.85" cy="168.35" rx="1.27" ry="1.09" fill="#e3e3df"/>
<ellipse cx="440.77" cy="163.35" rx="0.98" ry="0.89" fill="#a3a39d"/>
<ellipse cx="443.09" cy="163.17" rx="1.25" ry="1.07" fill="#e3e3df"/>
<ellipse cx="439.09" cy="158.32" rx="0.97" ry="0.88" fill="#a3a39d"/>
<ellipse cx="441.38" cy="158.14" rx="1.23" ry="1.05" fill="#e3e3df"/>
<ellipse cx="437.46" cy="153.43" rx="0.95" ry="0.87" fill="#a3a39d"/>
<ellipse cx="439.72" cy="153.26" rx="1.21" ry="1.04" fill="#e3e3df"/>
<ellipse cx="435.88" cy="148.67" rx="0.94" ry="0.85" fill="#a3a39d"/>
<ellipse cx="438.10" cy="148.50" rx="1.20" ry="1.03" fill="#e3e3df"/>
<ellipse cx="434.34" cy="144.05" rx="0.93" ry="0.84" fill="#a3a39d"/>
<ellipse cx="436.53" cy="143.88" rx="1.18" ry="1.01" fill="#e3e3df"/>
<ellipse cx="432.83" cy="139.55" rx="0.91" ry="0.83" fill="#a3a39d"/>
<ellipse cx="435.00" cy="139.39" rx="1.16" ry="1.00" fill="#e3e3df"/>
<ellipse cx="431.37" cy="135.17" rx="0.90" ry="0.82" fill="#a3a39d"/>
<ellipse cx="433.51" cy="135.01" rx="1.15" ry="0.98" fill="#e3e3df"/>
<ellipse cx="429.95" cy="130.91" rx="0.89" ry="0.81" fill="#a3a39d"/>
<ellipse cx="432.06" cy="130.75" rx="1.13" ry="0.97" fill="#e3e3df"/>
<ellipse cx="428.57" cy="126.76" rx="0.88" ry="0.80" fill="#a3a39d"/>
<ellipse cx="430.64" cy="126.60" rx="1.12" ry="0.96" fill="#e3e3df"/>
<ellipse cx="427.22" cy="122.71" rx="0.87" ry="0.79" fill="#a3a39d"/>
<ellipse cx="429.27" cy="122.55" rx="1.10" ry="0.95" fill="#e3e3df"/>
<ellipse cx="425.90" cy="118.77" rx="0.86" ry="0.78" fill="#a3a39d"/>
<ellipse cx="427.93" cy="118.61" rx="1.09" ry="0.93" fill="#e3e3df"/>
<ellipse cx="424.62" cy="114.92" rx="0.85" ry="0.77" fill="#a3a39d"/>
<ellipse cx="426.62" cy="114.77" rx="1.08" ry="0.92" fill="#e3e3df"/>
<ellipse cx="423.37" cy="111.17" rx="0.84" ry="0.76" fill="#a3a39d"/>
<ellipse cx="425.34" cy="111.02" rx="1.06" ry="0.91" fill="#e3e3df"/>
<ellipse cx="422.15" cy="107.51" rx="0.83" ry="0.75" fill="#a3a39d"/>
<ellipse cx="424.10" cy="107.36" rx="1.05" ry="0.90" fill="#e3e3df"/>
<ellipse cx="420.95" cy="103.94" rx="0.82" ry="0.74" fill="#a3a39d"/>
<ellipse cx="422.88" cy="103.79" rx="1.04" ry="0.89" fill="#e3e3df"/>
<ellipse cx="419.79" cy="100.45" rx="0.81" ry="0.73" fill="#a3a39d"/>
<ellipse cx="421.70" cy="100.31" rx="1.03" ry="0.88" fill="#e3e3df"/>
<ellipse cx="418.66" cy="97.05" rx="0.80" ry="0.72" fill="#a3a39d"/>
<ellipse cx="420.54" cy="96.91" rx="1.01" ry="0.87" fill="#e3e3df"/>
<ellipse cx="417.55" cy="93.73" rx="0.79" ry="0.72" fill="#a3a39d"/>
<ellipse cx="419.41" cy="93.58" rx="1.00" ry="0.86" fill="#e3e3df"/>
<ellipse cx="416.46" cy="90.48" rx="0.78" ry="0.71" fill="#a3a39d"/>
<ellipse cx="418.30" cy="90.34" rx="0.99" ry="0.85" fill="#e3e3df"/>
<ellipse cx="415.41" cy="87.30" rx="0.77" ry="0.70" fill="#a3a39d"/>
<ellipse cx="417.22" cy="87.16" rx="0.98" ry="0.84" fill="#e3e3df"/>
<ellipse cx="414.37" cy="84.20" rx="0.76" ry="0.69" fill="#a3a39d"/>
<ellipse cx="416.17" cy="84.06" rx="0.97" ry="0.83" fill="#e3e3df"/>
<ellipse cx="413.36" cy="81.17" rx="0.75" ry="0.68" fill="#a3a39d"/>
<ellipse cx="415.14" cy="81.03" rx="0.96" ry="0.82" fill="#e3e3df"/>
<ellipse cx="412.37" cy="78.20" rx="0.74" ry="0.68" fill="#a3a39d"/>
<ellipse cx="414.13" cy="78.07" rx="0.95" ry="0.81" fill="#e3e3df"/>
<ellipse cx="411.40" cy="75.30" rx="0.74" ry="0.67" fill="#a3a39d"/>
<ellipse cx="413.14" cy="75.16" rx="0.94" ry="0.80" fill="#e3e3df"/>
<ellipse cx="410.45" cy="72.46" rx="0.73" ry="0.66" fill="#a3a39d"/>
<ellipse cx="412.17" cy="72.33" rx="0.93" ry="0.79" fill="#e3e3df"/>
<ellipse cx="409.53" cy="69.68" rx="0.72" ry="0.65" fill="#a3a39d"/>
<ellipse cx="411.23" cy="69.55" rx="0.92" ry="0.79" fill="#e3e3df"/>
<ellipse cx="408.62" cy="66.96" rx="0.71" ry="0.65" fill="#a3a39d"/>
<ellipse cx="410.30" cy="66.83" rx="0.91" ry="0.78" fill="#e3e3df"/>
<ellipse cx="407.73" cy="64.29" rx="0.70" ry="0.64" fill="#a3a39d"/>
<ellipse cx="409.39" cy="64.16" rx="0.90" ry="0.77" fill="#e3e3df"/>
<ellipse cx="406.86" cy="61.68" rx="0.70" ry="0.63" fill="#a3a39d"/>
<ellipse cx="408.51" cy="61.56" rx="0.89" ry="0.76" fill="#e3e3df"/>
<ellipse cx="406.01" cy="59.13" rx="0.69" ry="0.63" fill="#a3a39d"/>
<ellipse cx="407.64" cy="59.00" rx="0.88" ry="0.75" fill="#e3e3df"/>
<ellipse cx="405.17" cy="56.62" rx="0.68" ry="0.62" fill="#a3a39d"/>
<ellipse cx="406.79" cy="56.50" rx="0.87" ry="0.75" fill="#e3e3df"/>
<ellipse cx="404.35" cy="54.17" rx="0.68" ry="0.62" fill="#a3a39d"/>
<ellipse cx="405.95" cy="54.04" rx="0.86" ry="0.74" fill="#e3e3df"/>
<ellipse cx="403.55" cy="51.76" rx="0.67" ry="0.61" fill="#a3a39d"/>
<ellipse cx="405.13" cy="51.64" rx="0.85" ry="0.73" fill="#e3e3df"/>
<ellipse cx="402.76" cy="49.40" rx="0.66" ry="0.60" fill="#a3a39d"/>
<ellipse cx="404.33" cy="49.28" rx="0.84" ry="0.72" fill="#e3e3df"/>
<ellipse cx="401.99" cy="47.09" rx="0.66" ry="0.60" fill="#a3a39d"/>
<ellipse cx="403.54" cy="46.97" rx="0.84" ry="0.72" fill="#e3e3df"/>
<ellipse cx="401.23" cy="44.82" rx="0.65" ry="0.59" fill="#a3a39d"/>
<ellipse cx="402.77" cy="44.70" rx="0.83" ry="0.71" fill="#e3e3df"/>
<ellipse cx="400.49" cy="42.59" rx="0.64" ry="0.59" fill="#a3a39d"/>
<ellipse cx="402.01" cy="42.48" rx="0.82" ry="0.70" fill="#e3e3df"/>
<ellipse cx="399.76" cy="40.41" rx="0.64" ry="0.58" fill="#a3a39d"/>
<ellipse cx="401.27" cy="40.30" rx="0.81" ry="0.70" fill="#e3e3df"/>
<ellipse cx="399.05" cy="38.27" rx="0.63" ry="0.57" fill="#a3a39d"/>
<ellipse cx="400.54" cy="38.15" rx="0.80" ry="0.69" fill="#e3e3df"/>
<ellipse cx="398.35" cy="36.17" rx="0.63" ry="0.57" fill="#a3a39d"/>
<ellipse cx="399.83" cy="36.05" rx="0.80" ry="0.68" fill="#e3e3df"/>
<ellipse cx="397.66" cy="34.10" rx="0.62" ry="0.56" fill="#a3a39d"/>
<ellipse cx="399.13" cy="33.99" rx="0.79" ry="0.68" fill="#e3e3df"/>
<ellipse cx="396.98" cy="32.08" rx="0.62" ry="0.56" fill="#a3a39d"/>
<ellipse cx="398.44" cy="31.96" rx="0.78" ry="0.67" fill="#e3e3df"/>
<ellipse cx="396.32" cy="30.09" rx="0.61" ry="0.55" fill="#a3a39d"/>
<ellipse cx="397.76" cy="29.97" rx="0.78" ry="0.67" fill="#e3e3df"/>
<ellipse cx="395.67" cy="28.13" rx="0.60" ry="0.55" fill="#a3a39d"/>
<ellipse cx="397.09" cy="28.02" rx="0.77" ry="0.66" fill="#e3e3df"/>
<ellipse cx="395.02" cy="26.21" rx="0.60" ry="0.54" fill="#a3a39d"/>
<ellipse cx="396.44" cy="26.10" rx="0.76" ry="0.65" fill="#e3e3df"/>
<ellipse cx="394.40" cy="24.32" rx="0.59" ry="0.54" fill="#a3a39d"/>
<ellipse cx="395.80" cy="24.22" rx="0.76" ry="0.65" fill="#e3e3df"/>
<ellipse cx="393.78" cy="22.47" rx="0.59" ry="0.53" fill="#a3a39d"/>
<ellipse cx="395.17" cy="22.36" rx="0.75" ry="0.64" fill="#e3e3df"/>
<ellipse cx="393.17" cy="20.65" rx="0.58" ry="0.53" fill="#a3a39d"/>
<ellipse cx="394.55" cy="20.54" rx="0.74" ry="0.64" fill="#e3e3df"/>
<ellipse cx="392.57" cy="18.86" rx="0.58" ry="0.53" fill="#a3a39d"/>
<ellipse cx="393.94" cy="18.75" rx="0.74" ry="0.63" fill="#e3e3df"/>
<ellipse cx="391.99" cy="17.10" rx="0.57" ry="0.52" fill="#a3a39d"/>
<ellipse cx="393.34" cy="16.99" rx="0.73" ry="0.63" fill="#e3e3df"/>
<ellipse cx="391.41" cy="15.37" rx="0.57" ry="0.52" fill="#a3a39d"/>
<ellipse cx="392.75" cy="15.26" rx="0.72" ry="0.62" fill="#e3e3df"/>
<polyline points="65.00,214.78 69.40,230.70 98.60,230.70 102.57,222.05 102.00,219.63 105.03,215.13 117.50,196.10 142.00,196.10 146.60,200.70 156.00,200.70 160.00,196.10 184.70,196.10 198.10,215.13 201.35,219.63 200.74,222.05 205.00,230.70 230.40,230.70 234.80,227.52 243.00,227.52 247.50,230.70 270.70,230.70 274.96,222.05 274.35,219.63 277.60,215.13 291.00,196.10 315.60,196.10 320.20,200.70 328.80,200.70 332.80,196.10 356.70,196.10 369.04,215.13 372.03,219.63 371.47,222.05 375.40,230.70 400.80,230.70 405.20,227.52 415.00,227.52 419.50,230.70 442.70,230.70 447.26,222.05 446.61,219.63 450.08,215.13 464.40,196.10 488.30,196.10 492.90,200.70 500.70,200.70 504.70,196.10 529.40,196.10 542.27,215.13 545.39,219.63 544.80,222.05 548.90,230.70 581.70,230.70 583.20,216.86" fill="none" stroke="#a3a9b1" stroke-width="1.1" stroke-linejoin="round"/>
</g>
<g fill="none" stroke="#111" stroke-linecap="butt">
<path d="M40.6 413.0 L40.6 430.2 L76.0 430.2 L80.9 421.1 L79.8 418.4 L85.8 412.6 L97.7 391.1 L123.1 391.1 L128.3 396.4 L138.0 396.4 L143.2 391.1 L167.3 391.1 L179.8 412.6 L186.2 417.9 L184.4 420.7 L189.7 430.1 L215.5 430.1 L220.6 425.2 L230.1 425.2 L235.0 430.1 L261.8 430.1 L266.6 421.0 L265.5 418.3 L271.4 412.6 L282.6 391.3 L307.8 391.3 L313.4 396.5 L323.2 396.5 L328.1 391.3 L352.7 391.3 L364.7 412.8 L370.6 418.0 L369.0 421.0 L374.4 430.1 L400.5 430.1 L405.0 425.0 L414.7 425.0 L419.2 430.1 L445.5 430.0 L450.2 421.0 L449.0 418.4 L454.8 413.0 L466.9 391.2 L492.2 391.2 L498.0 396.6 L507.7 396.6 L512.6 391.2 L537.6 391.2 L549.5 412.3 L554.9 418.2 L553.5 421.0 L558.9 430.0 L589.6 430.0 L592.3 413.8 Q594.6 410.2 596.9 413.8 L599.4 430 L606 430" stroke-width="2.7" stroke-linejoin="round"/>
<line x1="40.7" y1="292.9" x2="594.6" y2="292.9" stroke-width="1.80"/>
<path d="M39.20 294.40 L42.20 291.40" stroke-width="2.3" stroke-linecap="round"/>
<path d="M593.10 294.40 L596.10 291.40" stroke-width="2.3" stroke-linecap="round"/>
<line x1="40.7" y1="327.8" x2="594.6" y2="327.8" stroke-width="1.80"/>
<path d="M39.20 329.30 L42.20 326.30" stroke-width="2.3" stroke-linecap="round"/>
<path d="M223.90 329.30 L226.90 326.30" stroke-width="2.3" stroke-linecap="round"/>
<path d="M408.30 329.30 L411.30 326.30" stroke-width="2.3" stroke-linecap="round"/>
<path d="M593.10 329.30 L596.10 326.30" stroke-width="2.3" stroke-linecap="round"/>
<line x1="40.7" y1="290.5" x2="40.7" y2="390.5" stroke-width="1.60"/>
<line x1="594.7" y1="292.9" x2="594.7" y2="390.5" stroke-width="1.60"/>
<line x1="225.4" y1="327.6" x2="225.4" y2="390.0" stroke-width="1.60"/>
<line x1="409.8" y1="327.6" x2="409.8" y2="390.0" stroke-width="1.60"/>
<line x1="20.8" y1="409.8" x2="20.8" y2="433.6" stroke-width="1.40"/>
<line x1="20.5" y1="412.8" x2="29.5" y2="412.8" stroke-width="1.40"/>
<line x1="20.5" y1="430.2" x2="32.5" y2="430.2" stroke-width="1.40"/>
<path d="M19.00 414.30 L22.00 411.30" stroke-width="2.3" stroke-linecap="round"/>
<path d="M19.00 431.70 L22.00 428.70" stroke-width="2.3" stroke-linecap="round"/>
<line x1="216.8" y1="406.1" x2="234.0" y2="406.1" stroke-width="1.40"/>
<line x1="220.6" y1="403.5" x2="220.6" y2="413.2" stroke-width="1.40"/>
<line x1="229.6" y1="403.5" x2="229.6" y2="413.2" stroke-width="1.40"/>
<line x1="215.7" y1="441.0" x2="215.7" y2="458.1" stroke-width="1.40"/>
<line x1="235.1" y1="441.0" x2="235.1" y2="458.1" stroke-width="1.40"/>
<line x1="215.7" y1="458.1" x2="235.1" y2="458.1" stroke-width="1.40"/>
<path d="M214.20 459.60 L217.20 456.60" stroke-width="2.3" stroke-linecap="round"/>
<path d="M233.60 459.60 L236.60 456.60" stroke-width="2.3" stroke-linecap="round"/>
<line x1="306.3" y1="373.0" x2="329.5" y2="373.0" stroke-width="1.40"/>
<line x1="307.8" y1="373.0" x2="307.8" y2="379.6" stroke-width="1.40"/>
<line x1="327.4" y1="373.0" x2="327.4" y2="379.6" stroke-width="1.40"/>
<path d="M306.30 374.50 L309.30 371.50" stroke-width="2.3" stroke-linecap="round"/>
<path d="M325.90 374.50 L328.90 371.50" stroke-width="2.3" stroke-linecap="round"/>
<line x1="308.4" y1="415.8" x2="326.7" y2="415.8" stroke-width="1.40"/>
<line x1="313.4" y1="402.8" x2="313.4" y2="416.9" stroke-width="1.40"/>
<line x1="321.2" y1="402.8" x2="321.2" y2="416.9" stroke-width="1.40"/>
<path d="M311.90 417.30 L314.90 414.30" stroke-width="2.3" stroke-linecap="round"/>
<path d="M319.70 417.30 L322.70 414.30" stroke-width="2.3" stroke-linecap="round"/>
<line x1="465.0" y1="370.4" x2="539.8" y2="370.4" stroke-width="1.40"/>
<line x1="466.5" y1="370.4" x2="466.5" y2="379.2" stroke-width="1.40"/>
<line x1="537.9" y1="370.4" x2="537.9" y2="379.2" stroke-width="1.40"/>
<path d="M465.00 371.90 L468.00 368.90" stroke-width="2.3" stroke-linecap="round"/>
<path d="M536.40 371.90 L539.40 368.90" stroke-width="2.3" stroke-linecap="round"/>
<line x1="445.7" y1="441.3" x2="445.7" y2="466.0" stroke-width="1.40"/>
<line x1="558.9" y1="441.3" x2="558.9" y2="466.0" stroke-width="1.40"/>
<line x1="445.7" y1="466.0" x2="558.9" y2="466.0" stroke-width="1.40"/>
<path d="M444.20 467.50 L447.20 464.50" stroke-width="2.3" stroke-linecap="round"/>
<path d="M557.40 467.50 L560.40 464.50" stroke-width="2.3" stroke-linecap="round"/>
<line x1="606.0" y1="411.6" x2="633.1" y2="411.6" stroke-width="1.40"/>
<line x1="632.3" y1="411.6" x2="632.3" y2="429.5" stroke-width="1.40"/>
<path d="M630.80 413.10 L633.80 410.10" stroke-width="2.3" stroke-linecap="round"/>
<path d="M630.80 431.00 L633.80 428.00" stroke-width="2.3" stroke-linecap="round"/>
<line x1="612.0" y1="391.1" x2="659.6" y2="391.1" stroke-width="1.40"/>
<line x1="659.3" y1="391.1" x2="659.3" y2="429.5" stroke-width="1.40"/>
<path d="M657.80 392.60 L660.80 389.60" stroke-width="2.3" stroke-linecap="round"/>
<path d="M657.80 431.00 L660.80 428.00" stroke-width="2.3" stroke-linecap="round"/>
<line x1="614.5" y1="429.5" x2="659.6" y2="429.5" stroke-width="1.40"/>
</g>
<g class="tx">
<text x="318.0" y="289.3" font-size="11.0" text-anchor="middle">720</text>
<text x="132.4" y="323.4" font-size="11.0" text-anchor="middle">240</text>
<text x="318.0" y="323.4" font-size="11.0" text-anchor="middle">240</text>
<text x="504.0" y="323.4" font-size="11.0" text-anchor="middle">240</text>
<text x="225.7" y="401.9" font-size="11.0" text-anchor="middle">13</text>
<text x="225.4" y="453.1" font-size="11.0" text-anchor="middle">25</text>
<text x="318.0" y="368.8" font-size="11.0" text-anchor="middle">25</text>
<text x="317.3" y="410.6" font-size="11.0" text-anchor="middle">13</text>
<text x="501.0" y="365.9" font-size="11.0" text-anchor="middle">93</text>
<text x="504.0" y="461.9" font-size="11.0" text-anchor="middle">148</text>
<text transform="translate(628.9 421.5) rotate(-90)" font-size="11.0" text-anchor="middle">24</text>
<text transform="translate(656.0 410.2) rotate(-90)" font-size="11.0" text-anchor="middle">51</text>
<text transform="translate(17.4 422.0) rotate(-90)" font-size="11.0" text-anchor="middle">22</text>
</g>
</svg>
</body></html>
